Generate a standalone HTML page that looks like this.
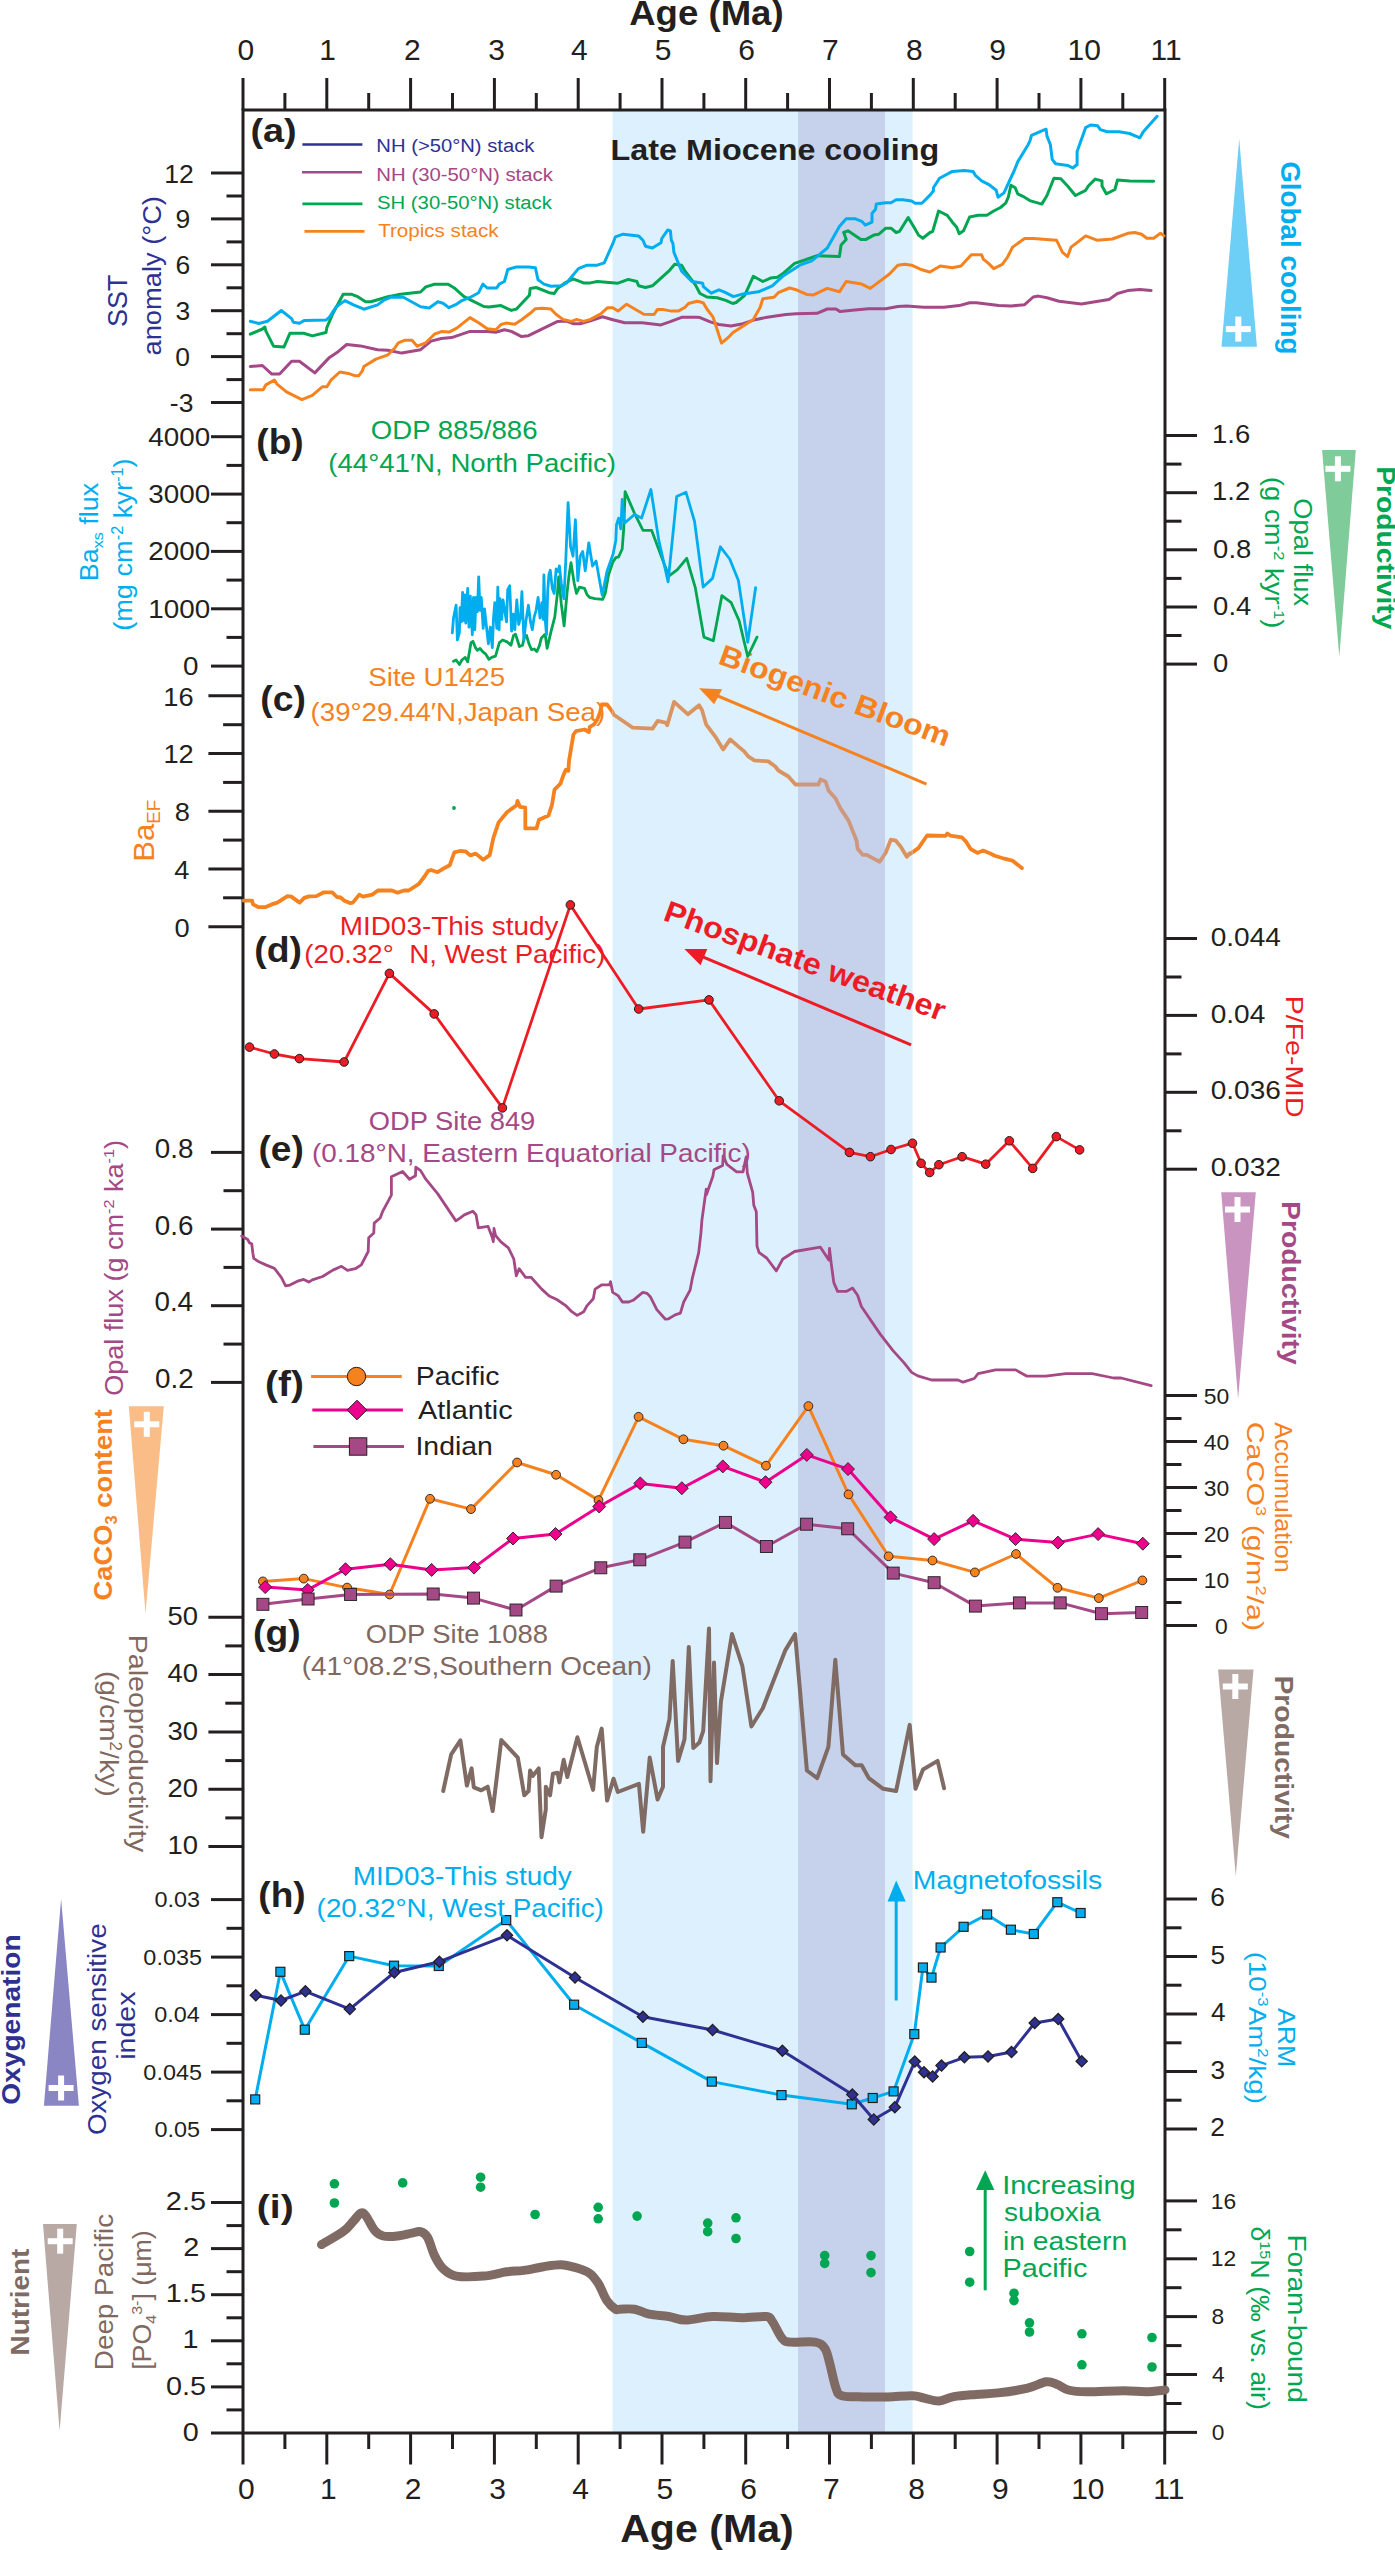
<!DOCTYPE html>
<html><head><meta charset="utf-8"><style>
html,body{margin:0;padding:0;background:#fff;}
svg{display:block;}
text{font-family:"Liberation Sans",sans-serif;}
</style></head><body>
<svg xmlns="http://www.w3.org/2000/svg" width="1395" height="2550" viewBox="0 0 1395 2550">
<rect width="1395" height="2550" fill="#fff"/>
<rect x="612.5" y="110.0" width="300.1" height="2323.0" fill="#ddf0fd"/>
<rect x="798" y="110.0" width="87.0" height="2323.0" fill="#c6d2ec"/>
<rect x="243.0" y="110.0" width="922.0" height="2323.0" fill="none" stroke="#231f20" stroke-width="3"/>
<line x1="243.0" y1="110.0" x2="243.0" y2="78.0" stroke="#231f20" stroke-width="3.0" stroke-linecap="butt"/>
<line x1="243.0" y1="2433.0" x2="243.0" y2="2464.5" stroke="#231f20" stroke-width="3.0" stroke-linecap="butt"/>
<text x="237.38" y="59.60" font-size="30" font-weight="normal" fill="#231f20" textLength="16.69" lengthAdjust="spacingAndGlyphs">0</text>
<text x="238.08" y="2498.80" font-size="30" font-weight="normal" fill="#231f20" textLength="16.69" lengthAdjust="spacingAndGlyphs">0</text>
<line x1="284.9" y1="110.0" x2="284.9" y2="93.0" stroke="#231f20" stroke-width="3.0" stroke-linecap="butt"/>
<line x1="284.9" y1="2433.0" x2="284.9" y2="2449.0" stroke="#231f20" stroke-width="3.0" stroke-linecap="butt"/>
<line x1="326.8" y1="110.0" x2="326.8" y2="78.0" stroke="#231f20" stroke-width="3.0" stroke-linecap="butt"/>
<line x1="326.8" y1="2433.0" x2="326.8" y2="2464.5" stroke="#231f20" stroke-width="3.0" stroke-linecap="butt"/>
<text x="319.22" y="59.60" font-size="30" font-weight="normal" fill="#231f20" textLength="16.69" lengthAdjust="spacingAndGlyphs">1</text>
<text x="320.02" y="2498.80" font-size="30" font-weight="normal" fill="#231f20" textLength="16.69" lengthAdjust="spacingAndGlyphs">1</text>
<line x1="368.7" y1="110.0" x2="368.7" y2="93.0" stroke="#231f20" stroke-width="3.0" stroke-linecap="butt"/>
<line x1="368.7" y1="2433.0" x2="368.7" y2="2449.0" stroke="#231f20" stroke-width="3.0" stroke-linecap="butt"/>
<line x1="410.6" y1="110.0" x2="410.6" y2="78.0" stroke="#231f20" stroke-width="3.0" stroke-linecap="butt"/>
<line x1="410.6" y1="2433.0" x2="410.6" y2="2464.5" stroke="#231f20" stroke-width="3.0" stroke-linecap="butt"/>
<text x="404.08" y="59.60" font-size="30" font-weight="normal" fill="#231f20" textLength="16.69" lengthAdjust="spacingAndGlyphs">2</text>
<text x="404.78" y="2498.80" font-size="30" font-weight="normal" fill="#231f20" textLength="16.69" lengthAdjust="spacingAndGlyphs">2</text>
<line x1="452.5" y1="110.0" x2="452.5" y2="93.0" stroke="#231f20" stroke-width="3.0" stroke-linecap="butt"/>
<line x1="452.5" y1="2433.0" x2="452.5" y2="2449.0" stroke="#231f20" stroke-width="3.0" stroke-linecap="butt"/>
<line x1="494.4" y1="110.0" x2="494.4" y2="78.0" stroke="#231f20" stroke-width="3.0" stroke-linecap="butt"/>
<line x1="494.4" y1="2433.0" x2="494.4" y2="2464.5" stroke="#231f20" stroke-width="3.0" stroke-linecap="butt"/>
<text x="488.22" y="59.60" font-size="30" font-weight="normal" fill="#231f20" textLength="16.69" lengthAdjust="spacingAndGlyphs">3</text>
<text x="489.32" y="2498.80" font-size="30" font-weight="normal" fill="#231f20" textLength="16.69" lengthAdjust="spacingAndGlyphs">3</text>
<line x1="536.3" y1="110.0" x2="536.3" y2="93.0" stroke="#231f20" stroke-width="3.0" stroke-linecap="butt"/>
<line x1="536.3" y1="2433.0" x2="536.3" y2="2449.0" stroke="#231f20" stroke-width="3.0" stroke-linecap="butt"/>
<line x1="578.2" y1="110.0" x2="578.2" y2="78.0" stroke="#231f20" stroke-width="3.0" stroke-linecap="butt"/>
<line x1="578.2" y1="2433.0" x2="578.2" y2="2464.5" stroke="#231f20" stroke-width="3.0" stroke-linecap="butt"/>
<text x="571.01" y="59.60" font-size="30" font-weight="normal" fill="#231f20" textLength="16.69" lengthAdjust="spacingAndGlyphs">4</text>
<text x="572.21" y="2498.80" font-size="30" font-weight="normal" fill="#231f20" textLength="16.69" lengthAdjust="spacingAndGlyphs">4</text>
<line x1="620.1" y1="110.0" x2="620.1" y2="93.0" stroke="#231f20" stroke-width="3.0" stroke-linecap="butt"/>
<line x1="620.1" y1="2433.0" x2="620.1" y2="2449.0" stroke="#231f20" stroke-width="3.0" stroke-linecap="butt"/>
<line x1="662.0" y1="110.0" x2="662.0" y2="78.0" stroke="#231f20" stroke-width="3.0" stroke-linecap="butt"/>
<line x1="662.0" y1="2433.0" x2="662.0" y2="2464.5" stroke="#231f20" stroke-width="3.0" stroke-linecap="butt"/>
<text x="654.83" y="59.60" font-size="30" font-weight="normal" fill="#231f20" textLength="16.69" lengthAdjust="spacingAndGlyphs">5</text>
<text x="656.53" y="2498.80" font-size="30" font-weight="normal" fill="#231f20" textLength="16.69" lengthAdjust="spacingAndGlyphs">5</text>
<line x1="703.9" y1="110.0" x2="703.9" y2="93.0" stroke="#231f20" stroke-width="3.0" stroke-linecap="butt"/>
<line x1="703.9" y1="2433.0" x2="703.9" y2="2449.0" stroke="#231f20" stroke-width="3.0" stroke-linecap="butt"/>
<line x1="745.7" y1="110.0" x2="745.7" y2="78.0" stroke="#231f20" stroke-width="3.0" stroke-linecap="butt"/>
<line x1="745.7" y1="2433.0" x2="745.7" y2="2464.5" stroke="#231f20" stroke-width="3.0" stroke-linecap="butt"/>
<text x="738.17" y="59.60" font-size="30" font-weight="normal" fill="#231f20" textLength="16.69" lengthAdjust="spacingAndGlyphs">6</text>
<text x="740.37" y="2498.80" font-size="30" font-weight="normal" fill="#231f20" textLength="16.69" lengthAdjust="spacingAndGlyphs">6</text>
<line x1="787.6" y1="110.0" x2="787.6" y2="93.0" stroke="#231f20" stroke-width="3.0" stroke-linecap="butt"/>
<line x1="787.6" y1="2433.0" x2="787.6" y2="2449.0" stroke="#231f20" stroke-width="3.0" stroke-linecap="butt"/>
<line x1="829.5" y1="110.0" x2="829.5" y2="78.0" stroke="#231f20" stroke-width="3.0" stroke-linecap="butt"/>
<line x1="829.5" y1="2433.0" x2="829.5" y2="2464.5" stroke="#231f20" stroke-width="3.0" stroke-linecap="butt"/>
<text x="822.04" y="59.60" font-size="30" font-weight="normal" fill="#231f20" textLength="16.69" lengthAdjust="spacingAndGlyphs">7</text>
<text x="823.04" y="2498.80" font-size="30" font-weight="normal" fill="#231f20" textLength="16.69" lengthAdjust="spacingAndGlyphs">7</text>
<line x1="871.4" y1="110.0" x2="871.4" y2="93.0" stroke="#231f20" stroke-width="3.0" stroke-linecap="butt"/>
<line x1="871.4" y1="2433.0" x2="871.4" y2="2449.0" stroke="#231f20" stroke-width="3.0" stroke-linecap="butt"/>
<line x1="913.3" y1="110.0" x2="913.3" y2="78.0" stroke="#231f20" stroke-width="3.0" stroke-linecap="butt"/>
<line x1="913.3" y1="2433.0" x2="913.3" y2="2464.5" stroke="#231f20" stroke-width="3.0" stroke-linecap="butt"/>
<text x="906.00" y="59.60" font-size="30" font-weight="normal" fill="#231f20" textLength="16.69" lengthAdjust="spacingAndGlyphs">8</text>
<text x="908.20" y="2498.80" font-size="30" font-weight="normal" fill="#231f20" textLength="16.69" lengthAdjust="spacingAndGlyphs">8</text>
<line x1="955.2" y1="110.0" x2="955.2" y2="93.0" stroke="#231f20" stroke-width="3.0" stroke-linecap="butt"/>
<line x1="955.2" y1="2433.0" x2="955.2" y2="2449.0" stroke="#231f20" stroke-width="3.0" stroke-linecap="butt"/>
<line x1="997.1" y1="110.0" x2="997.1" y2="78.0" stroke="#231f20" stroke-width="3.0" stroke-linecap="butt"/>
<line x1="997.1" y1="2433.0" x2="997.1" y2="2464.5" stroke="#231f20" stroke-width="3.0" stroke-linecap="butt"/>
<text x="989.29" y="59.60" font-size="30" font-weight="normal" fill="#231f20" textLength="16.69" lengthAdjust="spacingAndGlyphs">9</text>
<text x="991.99" y="2498.80" font-size="30" font-weight="normal" fill="#231f20" textLength="16.69" lengthAdjust="spacingAndGlyphs">9</text>
<line x1="1039.0" y1="110.0" x2="1039.0" y2="93.0" stroke="#231f20" stroke-width="3.0" stroke-linecap="butt"/>
<line x1="1039.0" y1="2433.0" x2="1039.0" y2="2449.0" stroke="#231f20" stroke-width="3.0" stroke-linecap="butt"/>
<line x1="1080.9" y1="110.0" x2="1080.9" y2="78.0" stroke="#231f20" stroke-width="3.0" stroke-linecap="butt"/>
<line x1="1080.9" y1="2433.0" x2="1080.9" y2="2464.5" stroke="#231f20" stroke-width="3.0" stroke-linecap="butt"/>
<text x="1067.46" y="59.60" font-size="30" font-weight="normal" fill="#231f20" textLength="33.37" lengthAdjust="spacingAndGlyphs">10</text>
<text x="1071.16" y="2498.80" font-size="30" font-weight="normal" fill="#231f20" textLength="33.37" lengthAdjust="spacingAndGlyphs">10</text>
<line x1="1122.8" y1="110.0" x2="1122.8" y2="93.0" stroke="#231f20" stroke-width="3.0" stroke-linecap="butt"/>
<line x1="1122.8" y1="2433.0" x2="1122.8" y2="2449.0" stroke="#231f20" stroke-width="3.0" stroke-linecap="butt"/>
<line x1="1164.7" y1="110.0" x2="1164.7" y2="78.0" stroke="#231f20" stroke-width="3.0" stroke-linecap="butt"/>
<line x1="1164.7" y1="2433.0" x2="1164.7" y2="2464.5" stroke="#231f20" stroke-width="3.0" stroke-linecap="butt"/>
<text x="1150.53" y="59.60" font-size="30" font-weight="normal" fill="#231f20" textLength="31.14" lengthAdjust="spacingAndGlyphs">11</text>
<text x="1153.33" y="2498.80" font-size="30" font-weight="normal" fill="#231f20" textLength="31.14" lengthAdjust="spacingAndGlyphs">11</text>
<text x="629.19" y="24.70" font-size="35" font-weight="bold" fill="#231f20" textLength="154.45" lengthAdjust="spacingAndGlyphs"><tspan>Age (Ma)</tspan></text>
<text x="620.17" y="2541.60" font-size="38" font-weight="bold" fill="#231f20" textLength="173.57" lengthAdjust="spacingAndGlyphs"><tspan>Age (Ma)</tspan></text>
<line x1="211.0" y1="402.5" x2="243.0" y2="402.5" stroke="#231f20" stroke-width="3.0" stroke-linecap="butt"/>
<line x1="211.0" y1="356.6" x2="243.0" y2="356.6" stroke="#231f20" stroke-width="3.0" stroke-linecap="butt"/>
<line x1="211.0" y1="310.7" x2="243.0" y2="310.7" stroke="#231f20" stroke-width="3.0" stroke-linecap="butt"/>
<line x1="211.0" y1="264.8" x2="243.0" y2="264.8" stroke="#231f20" stroke-width="3.0" stroke-linecap="butt"/>
<line x1="211.0" y1="218.9" x2="243.0" y2="218.9" stroke="#231f20" stroke-width="3.0" stroke-linecap="butt"/>
<line x1="211.0" y1="173.0" x2="243.0" y2="173.0" stroke="#231f20" stroke-width="3.0" stroke-linecap="butt"/>
<line x1="226.5" y1="379.6" x2="243.0" y2="379.6" stroke="#231f20" stroke-width="3.0" stroke-linecap="butt"/>
<line x1="226.5" y1="333.7" x2="243.0" y2="333.7" stroke="#231f20" stroke-width="3.0" stroke-linecap="butt"/>
<line x1="226.5" y1="287.8" x2="243.0" y2="287.8" stroke="#231f20" stroke-width="3.0" stroke-linecap="butt"/>
<line x1="226.5" y1="241.9" x2="243.0" y2="241.9" stroke="#231f20" stroke-width="3.0" stroke-linecap="butt"/>
<line x1="226.5" y1="196.0" x2="243.0" y2="196.0" stroke="#231f20" stroke-width="3.0" stroke-linecap="butt"/>
<text x="164.16" y="182.50" font-size="26" font-weight="normal" fill="#231f20" textLength="29.50" lengthAdjust="spacingAndGlyphs">12</text>
<text x="175.57" y="228.40" font-size="26" font-weight="normal" fill="#231f20" textLength="14.75" lengthAdjust="spacingAndGlyphs">9</text>
<text x="175.44" y="274.30" font-size="26" font-weight="normal" fill="#231f20" textLength="14.75" lengthAdjust="spacingAndGlyphs">6</text>
<text x="175.44" y="320.20" font-size="26" font-weight="normal" fill="#231f20" textLength="14.75" lengthAdjust="spacingAndGlyphs">3</text>
<text x="175.31" y="366.10" font-size="26" font-weight="normal" fill="#231f20" textLength="14.75" lengthAdjust="spacingAndGlyphs">0</text>
<text x="169.86" y="412.00" font-size="26" font-weight="normal" fill="#231f20" textLength="23.58" lengthAdjust="spacingAndGlyphs">-3</text>
<polyline points="250.3,366.5 262.4,365.5 271.8,374.1 279.6,374.1 291.6,361.2 299.4,361.2 314.8,372.9 329.5,357.4 338.1,351.7 346.7,344.5 360.4,345.9 377.6,349.7 388.0,350.2 401.7,353.1 420.6,349.7 431.0,341.1 441.3,338.5 451.6,337.6 470.0,331.4 487.2,331.4 495.8,332.3 504.4,329.7 511.3,331.4 521.6,336.6 528.5,335.7 542.3,328.8 557.7,321.4 566.3,321.1 573.2,323.7 580.1,323.7 590.4,320.7 602.5,316.8 612.8,319.7 624.8,322.8 642.0,322.8 661.0,324.9 669.6,321.9 681.6,317.3 697.1,317.3 700.0,317.6 710.3,321.9 718.9,324.5 731.0,325.9 743.0,323.7 755.1,319.7 765.4,317.6 786.0,314.5 796.3,313.8 817.0,313.3 827.3,309.0 835.9,309.0 840.2,311.6 854.8,309.9 868.6,308.7 885.8,308.7 897.8,306.5 906.5,305.9 923.7,307.3 930.0,307.3 943.8,307.3 959.2,305.6 969.6,302.7 976.5,302.7 998.8,305.6 1010.9,306.1 1024.6,304.7 1033.2,297.0 1038.4,296.1 1047.0,297.8 1059.0,301.3 1081.4,303.9 1108.9,299.6 1117.5,293.5 1127.8,290.6 1139.9,289.6 1151.1,290.6" fill="none" stroke="#a44886" stroke-width="3" stroke-linejoin="round" stroke-linecap="round" />
<polyline points="250.3,389.8 263.2,389.8 265.8,384.9 274.4,380.1 277.0,384.1 286.5,391.8 301.9,399.6 312.3,395.3 322.6,386.7 326.9,386.7 331.2,379.8 339.8,372.0 348.4,373.4 355.3,375.8 358.7,375.8 362.2,371.2 363.9,366.5 375.9,359.1 388.0,354.8 394.8,348.0 398.3,342.8 405.2,340.2 412.0,340.2 417.2,346.2 425.8,342.8 434.4,334.2 441.3,331.6 449.0,332.1 456.8,328.2 470.0,317.6 478.6,322.8 487.2,328.8 495.8,329.7 501.0,324.5 506.1,323.1 514.7,324.2 521.6,319.7 530.2,313.3 535.4,308.7 542.3,308.2 550.9,309.0 556.0,314.2 562.9,319.4 571.5,321.4 576.7,319.4 583.5,321.4 590.4,319.4 600.8,313.8 607.6,307.7 612.8,307.7 618.0,311.1 626.6,304.2 633.4,308.2 643.8,314.2 654.1,314.5 657.5,309.4 662.7,309.4 671.3,311.1 678.2,311.1 685.1,307.3 688.5,303.5 697.1,301.3 700.0,301.8 703.4,303.0 706.9,309.0 712.9,316.8 717.2,329.7 721.5,343.1 729.2,336.6 732.7,332.8 753.3,319.4 760.2,307.3 762.8,298.7 774.0,297.3 778.3,292.7 789.5,288.0 796.3,289.8 806.7,294.4 813.5,294.9 827.3,288.4 839.4,291.8 846.2,281.5 861.7,284.1 870.3,288.4 889.2,274.3 897.8,265.2 904.7,264.3 911.6,265.2 921.9,269.8 929.7,272.0 930.0,272.0 940.3,266.0 952.4,267.7 961.0,266.0 971.3,254.8 981.6,254.8 983.3,259.1 988.5,263.4 993.7,268.6 1002.3,264.3 1007.4,257.4 1012.6,247.1 1024.6,238.5 1033.2,238.5 1056.5,240.2 1062.5,252.3 1067.6,256.6 1071.1,247.1 1078.0,241.9 1085.7,235.9 1096.9,240.2 1112.4,239.0 1127.8,233.3 1134.7,232.5 1141.6,234.2 1146.8,238.2 1153.7,238.2 1160.5,233.3 1164.0,235.9" fill="none" stroke="#f5821f" stroke-width="3" stroke-linejoin="round" stroke-linecap="round" />
<polyline points="250.3,334.2 262.4,329.0 264.9,327.0 265.8,330.8 273.5,346.2 283.9,347.1 289.9,333.3 303.7,333.3 312.3,335.9 326.0,332.5 326.9,327.3 332.9,313.5 343.2,294.3 351.8,294.3 357.0,296.3 365.6,301.8 370.8,301.8 388.0,296.7 398.3,294.6 420.6,292.0 425.8,286.9 434.4,284.3 448.2,284.3 455.1,288.6 463.7,296.3 470.0,299.6 483.8,306.5 488.9,307.0 501.0,305.6 511.3,310.4 516.5,309.0 529.4,295.3 530.2,288.4 536.2,287.5 549.1,292.7 554.3,293.5 557.7,288.4 564.6,283.2 573.2,278.9 583.5,282.9 590.4,282.9 597.3,281.5 618.0,283.2 628.3,279.4 636.9,281.5 638.6,285.8 645.5,287.5 652.4,285.8 661.0,278.1 669.6,270.3 674.7,264.3 681.6,265.2 685.1,271.2 695.4,284.9 700.0,293.5 706.9,297.0 717.2,297.8 725.8,300.4 732.7,303.5 736.1,302.5 744.7,295.3 753.3,276.3 762.8,281.5 770.5,278.1 777.4,277.2 782.6,273.8 794.6,263.4 804.9,260.0 817.0,255.7 839.4,256.6 841.1,245.0 846.2,239.4 843.7,232.5 848.0,230.8 860.9,239.4 866.0,239.4 873.8,235.1 878.9,234.2 885.8,228.2 891.0,228.2 896.1,232.5 899.6,231.3 908.2,217.5 913.3,226.1 918.5,235.1 922.8,238.2 930.0,232.5 932.6,231.6 938.6,211.0 947.2,215.3 952.4,222.2 956.7,227.3 959.2,233.8 963.5,230.8 969.6,217.0 978.2,215.3 986.8,215.3 993.7,211.0 1000.5,207.5 1005.7,203.2 1008.3,197.2 1010.9,185.2 1015.2,187.7 1017.7,193.8 1022.9,196.3 1029.8,200.6 1041.8,204.1 1047.0,195.5 1053.9,178.3 1060.8,178.8 1067.6,186.0 1075.4,195.5 1085.7,190.3 1088.3,186.0 1095.2,179.1 1102.0,180.9 1102.0,186.0 1106.3,193.8 1114.9,189.5 1117.5,180.0 1129.6,180.9 1153.7,181.2" fill="none" stroke="#00a651" stroke-width="3" stroke-linejoin="round" stroke-linecap="round" />
<polyline points="250.3,321.3 258.9,323.5 267.5,321.3 281.3,310.5 291.6,318.7 293.3,322.2 299.4,323.2 304.5,320.4 326.0,320.1 329.5,317.0 336.3,306.7 344.9,300.6 353.5,304.9 363.9,309.2 377.6,304.9 384.5,299.8 391.4,297.2 403.4,297.2 420.6,306.7 429.2,308.0 437.8,301.8 443.0,303.2 449.0,307.7 456.8,304.1 461.9,300.6 470.5,297.2 478.6,292.7 482.9,284.1 487.2,288.0 496.7,288.0 499.2,284.1 504.4,281.5 507.8,269.5 516.5,266.9 528.5,266.9 535.4,267.7 538.0,279.8 544.0,284.1 550.9,286.2 561.2,285.8 566.3,283.2 578.4,268.6 587.0,265.2 597.3,265.2 604.2,262.9 612.8,243.7 615.4,236.8 623.1,234.2 638.6,235.9 642.9,240.2 645.5,246.2 652.4,248.0 661.0,242.8 661.8,238.5 667.8,229.9 670.4,230.8 671.3,240.2 673.0,243.7 673.9,252.3 681.6,271.2 691.9,281.5 700.0,282.7 702.6,283.2 703.4,286.7 711.2,293.2 718.9,289.8 724.1,291.8 733.5,296.6 743.0,293.9 758.5,291.8 772.3,285.8 782.6,276.3 799.8,265.2 811.8,260.9 827.3,248.0 839.4,226.5 846.2,218.7 854.8,218.7 861.7,221.3 865.2,225.1 872.0,222.2 872.0,213.5 875.5,209.2 876.3,204.1 885.8,202.7 891.0,202.7 896.1,199.8 903.0,199.8 911.6,201.0 915.1,203.2 921.9,203.2 930.5,194.6 933.1,191.2 933.4,191.2 933.4,187.7 939.5,178.3 952.4,171.4 964.4,170.5 973.0,171.4 975.6,175.7 981.6,180.9 988.5,184.3 996.2,190.3 998.0,197.2 1004.0,192.9 1009.1,181.7 1014.3,170.5 1017.7,161.9 1028.1,144.7 1029.8,141.3 1031.5,135.3 1043.5,130.1 1046.1,129.2 1047.0,136.1 1050.4,144.7 1052.2,159.4 1055.6,163.7 1067.6,165.4 1072.8,168.0 1077.1,164.5 1077.1,151.6 1085.7,127.5 1090.9,124.9 1097.7,125.8 1100.3,129.6 1107.2,131.8 1119.2,131.8 1129.6,133.5 1139.9,137.8 1143.3,131.8 1157.1,116.3" fill="none" stroke="#00aeef" stroke-width="3" stroke-linejoin="round" stroke-linecap="round" />
<text x="250.40" y="141.80" font-size="34" font-weight="bold" fill="#231f20" textLength="46.29" lengthAdjust="spacingAndGlyphs"><tspan>(a)</tspan></text>
<line x1="302.4" y1="144.5" x2="362.4" y2="144.5" stroke="#2e3192" stroke-width="2.6" stroke-linecap="butt"/>
<text x="376.38" y="151.80" font-size="19.2" font-weight="normal" fill="#2e3192" textLength="157.99" lengthAdjust="spacingAndGlyphs"><tspan>NH (&gt;50°N) stack</tspan></text>
<line x1="302.0" y1="172.2" x2="362.0" y2="172.2" stroke="#a44886" stroke-width="2.6" stroke-linecap="butt"/>
<text x="376.37" y="180.70" font-size="19.2" font-weight="normal" fill="#a44886" textLength="176.52" lengthAdjust="spacingAndGlyphs"><tspan>NH (30-50°N) stack</tspan></text>
<line x1="302.4" y1="203.9" x2="362.4" y2="203.9" stroke="#00a651" stroke-width="2.6" stroke-linecap="butt"/>
<text x="377.09" y="209.00" font-size="19.2" font-weight="normal" fill="#00a651" textLength="174.81" lengthAdjust="spacingAndGlyphs"><tspan>SH (30-50°N) stack</tspan></text>
<line x1="304.5" y1="231.4" x2="364.5" y2="231.4" stroke="#f5821f" stroke-width="2.6" stroke-linecap="butt"/>
<text x="378.19" y="237.10" font-size="19.2" font-weight="normal" fill="#f5821f" textLength="120.47" lengthAdjust="spacingAndGlyphs"><tspan>Tropics stack</tspan></text>
<text x="610.60" y="160.40" font-size="30" font-weight="bold" fill="#231f20" textLength="328.71" lengthAdjust="spacingAndGlyphs"><tspan>Late Miocene cooling</tspan></text>
<text transform="translate(126.70,326.91) rotate(-90)" font-size="27" font-weight="normal" fill="#2e3192" textLength="52.24" lengthAdjust="spacingAndGlyphs"><tspan>SST</tspan></text>
<text transform="translate(161.00,355.49) rotate(-90)" font-size="26" font-weight="normal" fill="#2e3192" textLength="159.42" lengthAdjust="spacingAndGlyphs"><tspan>anomaly (°C)</tspan></text>
<polygon points="1239.2,139.1 1256.9,346.8 1221.5,346.8" fill="#6dcff6"/>
<rect x="1225.8" y="326.1" width="25" height="6" fill="#fff"/>
<rect x="1235.3" y="316.6" width="6" height="25" fill="#fff"/>
<text transform="translate(1281.30,161.19) rotate(90)" font-size="27" font-weight="bold" fill="#00aeef" textLength="193.31" lengthAdjust="spacingAndGlyphs"><tspan>Global cooling</tspan></text>
<line x1="211.0" y1="666.1" x2="243.0" y2="666.1" stroke="#231f20" stroke-width="3.0" stroke-linecap="butt"/>
<line x1="211.0" y1="608.8" x2="243.0" y2="608.8" stroke="#231f20" stroke-width="3.0" stroke-linecap="butt"/>
<line x1="211.0" y1="551.4" x2="243.0" y2="551.4" stroke="#231f20" stroke-width="3.0" stroke-linecap="butt"/>
<line x1="211.0" y1="494.1" x2="243.0" y2="494.1" stroke="#231f20" stroke-width="3.0" stroke-linecap="butt"/>
<line x1="211.0" y1="436.7" x2="243.0" y2="436.7" stroke="#231f20" stroke-width="3.0" stroke-linecap="butt"/>
<line x1="226.5" y1="637.4" x2="243.0" y2="637.4" stroke="#231f20" stroke-width="3.0" stroke-linecap="butt"/>
<line x1="226.5" y1="580.1" x2="243.0" y2="580.1" stroke="#231f20" stroke-width="3.0" stroke-linecap="butt"/>
<line x1="226.5" y1="522.7" x2="243.0" y2="522.7" stroke="#231f20" stroke-width="3.0" stroke-linecap="butt"/>
<line x1="226.5" y1="465.4" x2="243.0" y2="465.4" stroke="#231f20" stroke-width="3.0" stroke-linecap="butt"/>
<text x="148.27" y="445.70" font-size="26" font-weight="normal" fill="#231f20" textLength="61.89" lengthAdjust="spacingAndGlyphs">4000</text>
<text x="148.27" y="503.05" font-size="26" font-weight="normal" fill="#231f20" textLength="61.89" lengthAdjust="spacingAndGlyphs">3000</text>
<text x="148.27" y="560.40" font-size="26" font-weight="normal" fill="#231f20" textLength="61.89" lengthAdjust="spacingAndGlyphs">2000</text>
<text x="148.27" y="617.75" font-size="26" font-weight="normal" fill="#231f20" textLength="61.89" lengthAdjust="spacingAndGlyphs">1000</text>
<text x="183.13" y="675.10" font-size="26" font-weight="normal" fill="#231f20" textLength="15.47" lengthAdjust="spacingAndGlyphs">0</text>
<line x1="1165.0" y1="664.1" x2="1197.0" y2="664.1" stroke="#231f20" stroke-width="3.0" stroke-linecap="butt"/>
<line x1="1165.0" y1="607.0" x2="1197.0" y2="607.0" stroke="#231f20" stroke-width="3.0" stroke-linecap="butt"/>
<line x1="1165.0" y1="549.8" x2="1197.0" y2="549.8" stroke="#231f20" stroke-width="3.0" stroke-linecap="butt"/>
<line x1="1165.0" y1="492.7" x2="1197.0" y2="492.7" stroke="#231f20" stroke-width="3.0" stroke-linecap="butt"/>
<line x1="1165.0" y1="435.5" x2="1197.0" y2="435.5" stroke="#231f20" stroke-width="3.0" stroke-linecap="butt"/>
<line x1="1165.0" y1="635.5" x2="1181.5" y2="635.5" stroke="#231f20" stroke-width="3.0" stroke-linecap="butt"/>
<line x1="1165.0" y1="578.4" x2="1181.5" y2="578.4" stroke="#231f20" stroke-width="3.0" stroke-linecap="butt"/>
<line x1="1165.0" y1="521.2" x2="1181.5" y2="521.2" stroke="#231f20" stroke-width="3.0" stroke-linecap="butt"/>
<line x1="1165.0" y1="464.1" x2="1181.5" y2="464.1" stroke="#231f20" stroke-width="3.0" stroke-linecap="butt"/>
<text x="1212.04" y="443.20" font-size="26.4" font-weight="normal" fill="#231f20" textLength="38.17" lengthAdjust="spacingAndGlyphs">1.6</text>
<text x="1212.04" y="500.35" font-size="26.4" font-weight="normal" fill="#231f20" textLength="38.17" lengthAdjust="spacingAndGlyphs">1.2</text>
<text x="1213.14" y="557.50" font-size="26.4" font-weight="normal" fill="#231f20" textLength="38.17" lengthAdjust="spacingAndGlyphs">0.8</text>
<text x="1213.14" y="614.65" font-size="26.4" font-weight="normal" fill="#231f20" textLength="38.17" lengthAdjust="spacingAndGlyphs">0.4</text>
<text x="1213.14" y="671.80" font-size="26.4" font-weight="normal" fill="#231f20" textLength="15.27" lengthAdjust="spacingAndGlyphs">0</text>
<text x="256.33" y="453.70" font-size="34.3" font-weight="bold" fill="#231f20" textLength="47.41" lengthAdjust="spacingAndGlyphs"><tspan>(b)</tspan></text>
<text x="370.76" y="439.10" font-size="25.7" font-weight="normal" fill="#00a651" textLength="166.79" lengthAdjust="spacingAndGlyphs"><tspan>ODP 885/886</tspan></text>
<text x="328.34" y="471.80" font-size="25.7" font-weight="normal" fill="#00a651" textLength="287.70" lengthAdjust="spacingAndGlyphs"><tspan>(44°41′N, North Pacific)</tspan></text>
<polygon points="1322.1,450.0 1355.8,450.0 1339.3,656.7" fill="#7fcb9a"/>
<rect x="1325.4" y="465.8" width="25" height="6" fill="#fff"/>
<rect x="1334.9" y="456.3" width="6" height="25" fill="#fff"/>
<text transform="translate(1293.50,498.37) rotate(90)" font-size="25" font-weight="normal" fill="#00a651" textLength="107.74" lengthAdjust="spacingAndGlyphs"><tspan>Opal flux</tspan></text>
<text transform="translate(1265.30,476.85) rotate(90)" font-size="25" font-weight="normal" fill="#00a651" textLength="151.65" lengthAdjust="spacingAndGlyphs"><tspan>(g cm</tspan><tspan dy="-9.00" font-size="15.00">-2</tspan><tspan dy="9.00"> kyr</tspan><tspan dy="-9.00" font-size="15.00">-1</tspan><tspan dy="9.00">)</tspan></text>
<text transform="translate(1376.60,466.16) rotate(90)" font-size="26" font-weight="bold" fill="#00a651" textLength="163.31" lengthAdjust="spacingAndGlyphs"><tspan>Productivity</tspan></text>
<text transform="translate(97.50,581.15) rotate(-90)" font-size="25.6" font-weight="normal" fill="#00aeef" textLength="98.39" lengthAdjust="spacingAndGlyphs"><tspan>Ba</tspan><tspan dy="5.12" font-size="15.36">xs</tspan><tspan dy="-5.12"> flux</tspan></text>
<text transform="translate(131.90,630.83) rotate(-90)" font-size="26" font-weight="normal" fill="#00aeef" textLength="172.41" lengthAdjust="spacingAndGlyphs"><tspan>(mg cm</tspan><tspan dy="-9.36" font-size="15.60">-2</tspan><tspan dy="9.36"> kyr</tspan><tspan dy="-9.36" font-size="15.60">-1</tspan><tspan dy="9.36">)</tspan></text>
<line x1="208.4" y1="926.7" x2="243.0" y2="926.7" stroke="#231f20" stroke-width="3.0" stroke-linecap="butt"/>
<line x1="208.4" y1="869.0" x2="243.0" y2="869.0" stroke="#231f20" stroke-width="3.0" stroke-linecap="butt"/>
<line x1="208.4" y1="811.3" x2="243.0" y2="811.3" stroke="#231f20" stroke-width="3.0" stroke-linecap="butt"/>
<line x1="208.4" y1="753.5" x2="243.0" y2="753.5" stroke="#231f20" stroke-width="3.0" stroke-linecap="butt"/>
<line x1="208.4" y1="695.8" x2="243.0" y2="695.8" stroke="#231f20" stroke-width="3.0" stroke-linecap="butt"/>
<line x1="223.1" y1="897.8" x2="243.0" y2="897.8" stroke="#231f20" stroke-width="3.0" stroke-linecap="butt"/>
<line x1="223.1" y1="840.1" x2="243.0" y2="840.1" stroke="#231f20" stroke-width="3.0" stroke-linecap="butt"/>
<line x1="223.1" y1="782.4" x2="243.0" y2="782.4" stroke="#231f20" stroke-width="3.0" stroke-linecap="butt"/>
<line x1="223.1" y1="724.7" x2="243.0" y2="724.7" stroke="#231f20" stroke-width="3.0" stroke-linecap="butt"/>
<text x="163.26" y="705.72" font-size="26.7" font-weight="normal" fill="#231f20" textLength="30.29" lengthAdjust="spacingAndGlyphs">16</text>
<text x="163.40" y="763.44" font-size="26.7" font-weight="normal" fill="#231f20" textLength="30.29" lengthAdjust="spacingAndGlyphs">12</text>
<text x="174.67" y="821.16" font-size="26.7" font-weight="normal" fill="#231f20" textLength="15.15" lengthAdjust="spacingAndGlyphs">8</text>
<text x="174.27" y="878.88" font-size="26.7" font-weight="normal" fill="#231f20" textLength="15.15" lengthAdjust="spacingAndGlyphs">4</text>
<text x="174.54" y="936.60" font-size="26.7" font-weight="normal" fill="#231f20" textLength="15.15" lengthAdjust="spacingAndGlyphs">0</text>
<clipPath id="co"><rect x="0" y="0" width="612.5" height="2550"/><rect x="912.6" y="0" width="500" height="2550"/></clipPath><clipPath id="cl"><rect x="612.5" y="0" width="185.5" height="2550"/><rect x="885" y="0" width="27.6" height="2550"/></clipPath><clipPath id="cd"><rect x="798" y="0" width="87" height="2550"/></clipPath>
<polyline points="243.7,900.7 252.1,900.7 253.0,904.4 258.6,907.2 265.2,907.2 271.7,904.4 277.3,902.6 287.5,896.1 291.3,896.6 299.6,902.6 304.3,897.9 309.0,896.4 316.4,896.1 323.9,892.3 332.3,892.3 336.9,897.0 340.6,897.5 344.4,900.7 350.0,903.1 352.8,902.6 359.3,894.6 363.0,896.6 372.3,894.6 377.9,890.5 391.9,890.5 397.5,892.7 404.0,890.5 408.7,890.5 418.9,883.9 424.5,876.5 428.2,870.9 431.0,870.0 437.6,872.2 445.0,867.7 449.7,865.3 454.3,852.3 459.9,851.0 465.5,851.3 470.2,855.4 475.8,853.6 483.2,859.7 489.7,855.1 493.4,837.8 498.6,822.4 507.2,812.0 516.7,805.2 517.5,800.9 520.1,806.9 525.3,807.7 525.3,828.4 536.5,828.4 539.0,819.8 548.5,815.5 551.9,805.2 554.5,789.7 560.5,783.7 563.1,775.9 565.7,769.9 568.3,770.8 569.1,760.4 573.4,734.6 576.0,731.2 584.6,729.5 588.9,732.0 589.8,726.9 594.1,724.3 597.5,719.1 600.1,712.3 601.8,704.5 607.0,704.5 612.2,711.4 613.9,714.8 613.9,714.8 632.8,727.7 652.6,728.6 657.7,720.9 665.5,722.6 667.2,725.2 674.1,701.9 688.0,714.3 699.1,705.2 702.1,710.3 706.1,724.3 715.1,736.3 723.2,749.4 730.2,739.4 738.2,746.4 744.2,751.4 748.2,756.4 754.3,760.4 768.3,761.4 775.3,766.5 778.4,770.5 788.4,776.5 795.4,784.5 818.5,784.5 820.5,779.5 825.5,781.5 828.5,790.5 835.6,798.6 840.6,808.6 848.6,820.6 856.6,840.7 857.6,848.7 862.7,854.8 866.7,854.8 879.7,861.8 885.7,852.8 890.8,839.7 895.8,840.7 900.8,846.7 906.8,856.8 909.8,853.2 906.8,856.2 911.6,852.9 918.4,848.1 927.1,835.5 945.5,835.9 947.4,833.5 950.3,835.5 961.9,837.4 965.8,841.3 970.6,849.0 977.4,852.9 983.2,850.6 989.0,852.9 994.8,855.8 1004.5,858.7 1012.3,860.6 1021.9,868.0" fill="none" stroke="#f5821f" stroke-width="3.8" stroke-linejoin="round" stroke-linecap="round" clip-path="url(#co)"/>
<polyline points="243.7,900.7 252.1,900.7 253.0,904.4 258.6,907.2 265.2,907.2 271.7,904.4 277.3,902.6 287.5,896.1 291.3,896.6 299.6,902.6 304.3,897.9 309.0,896.4 316.4,896.1 323.9,892.3 332.3,892.3 336.9,897.0 340.6,897.5 344.4,900.7 350.0,903.1 352.8,902.6 359.3,894.6 363.0,896.6 372.3,894.6 377.9,890.5 391.9,890.5 397.5,892.7 404.0,890.5 408.7,890.5 418.9,883.9 424.5,876.5 428.2,870.9 431.0,870.0 437.6,872.2 445.0,867.7 449.7,865.3 454.3,852.3 459.9,851.0 465.5,851.3 470.2,855.4 475.8,853.6 483.2,859.7 489.7,855.1 493.4,837.8 498.6,822.4 507.2,812.0 516.7,805.2 517.5,800.9 520.1,806.9 525.3,807.7 525.3,828.4 536.5,828.4 539.0,819.8 548.5,815.5 551.9,805.2 554.5,789.7 560.5,783.7 563.1,775.9 565.7,769.9 568.3,770.8 569.1,760.4 573.4,734.6 576.0,731.2 584.6,729.5 588.9,732.0 589.8,726.9 594.1,724.3 597.5,719.1 600.1,712.3 601.8,704.5 607.0,704.5 612.2,711.4 613.9,714.8 613.9,714.8 632.8,727.7 652.6,728.6 657.7,720.9 665.5,722.6 667.2,725.2 674.1,701.9 688.0,714.3 699.1,705.2 702.1,710.3 706.1,724.3 715.1,736.3 723.2,749.4 730.2,739.4 738.2,746.4 744.2,751.4 748.2,756.4 754.3,760.4 768.3,761.4 775.3,766.5 778.4,770.5 788.4,776.5 795.4,784.5 818.5,784.5 820.5,779.5 825.5,781.5 828.5,790.5 835.6,798.6 840.6,808.6 848.6,820.6 856.6,840.7 857.6,848.7 862.7,854.8 866.7,854.8 879.7,861.8 885.7,852.8 890.8,839.7 895.8,840.7 900.8,846.7 906.8,856.8 909.8,853.2 906.8,856.2 911.6,852.9 918.4,848.1 927.1,835.5 945.5,835.9 947.4,833.5 950.3,835.5 961.9,837.4 965.8,841.3 970.6,849.0 977.4,852.9 983.2,850.6 989.0,852.9 994.8,855.8 1004.5,858.7 1012.3,860.6 1021.9,868.0" fill="none" stroke="#da9462" stroke-width="3.8" stroke-linejoin="round" stroke-linecap="round" clip-path="url(#cl)"/>
<polyline points="243.7,900.7 252.1,900.7 253.0,904.4 258.6,907.2 265.2,907.2 271.7,904.4 277.3,902.6 287.5,896.1 291.3,896.6 299.6,902.6 304.3,897.9 309.0,896.4 316.4,896.1 323.9,892.3 332.3,892.3 336.9,897.0 340.6,897.5 344.4,900.7 350.0,903.1 352.8,902.6 359.3,894.6 363.0,896.6 372.3,894.6 377.9,890.5 391.9,890.5 397.5,892.7 404.0,890.5 408.7,890.5 418.9,883.9 424.5,876.5 428.2,870.9 431.0,870.0 437.6,872.2 445.0,867.7 449.7,865.3 454.3,852.3 459.9,851.0 465.5,851.3 470.2,855.4 475.8,853.6 483.2,859.7 489.7,855.1 493.4,837.8 498.6,822.4 507.2,812.0 516.7,805.2 517.5,800.9 520.1,806.9 525.3,807.7 525.3,828.4 536.5,828.4 539.0,819.8 548.5,815.5 551.9,805.2 554.5,789.7 560.5,783.7 563.1,775.9 565.7,769.9 568.3,770.8 569.1,760.4 573.4,734.6 576.0,731.2 584.6,729.5 588.9,732.0 589.8,726.9 594.1,724.3 597.5,719.1 600.1,712.3 601.8,704.5 607.0,704.5 612.2,711.4 613.9,714.8 613.9,714.8 632.8,727.7 652.6,728.6 657.7,720.9 665.5,722.6 667.2,725.2 674.1,701.9 688.0,714.3 699.1,705.2 702.1,710.3 706.1,724.3 715.1,736.3 723.2,749.4 730.2,739.4 738.2,746.4 744.2,751.4 748.2,756.4 754.3,760.4 768.3,761.4 775.3,766.5 778.4,770.5 788.4,776.5 795.4,784.5 818.5,784.5 820.5,779.5 825.5,781.5 828.5,790.5 835.6,798.6 840.6,808.6 848.6,820.6 856.6,840.7 857.6,848.7 862.7,854.8 866.7,854.8 879.7,861.8 885.7,852.8 890.8,839.7 895.8,840.7 900.8,846.7 906.8,856.8 909.8,853.2 906.8,856.2 911.6,852.9 918.4,848.1 927.1,835.5 945.5,835.9 947.4,833.5 950.3,835.5 961.9,837.4 965.8,841.3 970.6,849.0 977.4,852.9 983.2,850.6 989.0,852.9 994.8,855.8 1004.5,858.7 1012.3,860.6 1021.9,868.0" fill="none" stroke="#cf987c" stroke-width="3.8" stroke-linejoin="round" stroke-linecap="round" clip-path="url(#cd)"/>
<circle cx="454" cy="808" r="1.9" fill="#00a651"/>
<text x="260.32" y="710.60" font-size="35" font-weight="bold" fill="#231f20" textLength="45.65" lengthAdjust="spacingAndGlyphs"><tspan>(c)</tspan></text>
<text x="368.36" y="686.20" font-size="25.2" font-weight="normal" fill="#f5821f" textLength="136.63" lengthAdjust="spacingAndGlyphs"><tspan>Site U1425</tspan></text>
<text x="310.54" y="720.50" font-size="25.7" font-weight="normal" fill="#f5821f" textLength="294.63" lengthAdjust="spacingAndGlyphs"><tspan>(39°29.44′N,Japan Sea)</tspan></text>
<text transform="translate(154.00,861.79) rotate(-90)" font-size="30" font-weight="normal" fill="#f5821f" textLength="62.00" lengthAdjust="spacingAndGlyphs"><tspan>Ba</tspan><tspan dy="6.00" font-size="18.00">EF</tspan></text>
<line x1="926.5" y1="784.1" x2="712.0" y2="693.5" stroke="#f5821f" stroke-width="3" stroke-linecap="butt"/>
<polygon points="699.1,688.2 722.2,689.2 714.1,704.2" fill="#f5821f"/>
<text transform="translate(717.04,663.28) rotate(20.1)" font-size="29.5" font-weight="bold" fill="#f5821f" textLength="243.85" lengthAdjust="spacingAndGlyphs">Biogenic Bloom</text>
<polyline points="453.5,661.3 456.1,660.0 459.4,664.5 461.9,660.0 465.2,657.4 467.7,661.9 471.0,642.6 472.9,641.3 475.5,647.7 477.4,650.3 480.0,648.4 482.6,651.6 485.8,654.2 489.0,659.4 491.6,657.4 495.5,656.1 499.4,642.6 502.6,640.0 507.1,641.9 511.0,645.2 513.5,635.5 515.5,634.2 517.4,640.0 519.4,646.5 522.6,645.2 524.5,636.1 526.5,635.5 529.0,643.9 531.6,649.7 534.2,649.0 536.8,651.6 539.4,645.8 541.3,638.1 543.2,636.1 545.2,634.2 547.1,648.4 551.0,631.6 554.8,616.8 557.4,593.5 558.7,576.8 561.3,603.9 564.1,625.8 567.1,592.3 569.0,575.5 571.0,562.6 574.2,583.2 576.5,593.5 579.4,587.1 584.5,588.4 587.1,594.8 589.7,597.4 594.8,598.7 602.6,599.4 605.2,593.5 608.6,574.8 612.9,561.9 615.8,557.6 618.6,556.8 622.2,549.0 623.7,528.9 625.1,491.6 634.4,513.1 643.0,530.3 651.6,530.3 660.2,553.3 668.8,576.2 677.4,569.7 686.7,558.3 695.3,587.7 703.9,637.1 713.3,640.7 721.9,595.6 731.2,602.7 739.1,620.6 747.7,656.5 757.0,637.1" fill="none" stroke="#00a651" stroke-width="2.8" stroke-linejoin="round" stroke-linecap="round" />
<polyline points="452.3,632.9 453.5,618.1 454.8,611.6 456.1,605.2 457.4,640.0 459.4,632.3 460.0,607.7 461.3,621.9 462.6,592.3 463.9,620.6 465.2,594.8 465.8,623.2 467.7,588.4 469.0,627.1 470.3,596.1 472.3,634.8 473.5,597.4 474.8,629.7 476.1,597.4 477.4,611.6 478.7,576.8 480.0,610.3 481.3,597.4 483.2,628.4 484.5,609.0 485.8,620.6 488.4,643.9 490.3,627.1 492.3,647.7 493.5,618.1 494.8,602.6 496.8,628.4 497.8,587.1 499.1,629.7 500.0,598.7 501.7,619.4 503.0,600.0 504.5,609.0 506.5,621.9 507.7,589.7 509.7,585.8 511.6,631.0 513.5,614.2 514.8,629.7 516.8,600.0 518.7,624.5 520.6,616.8 521.9,591.6 523.9,640.0 525.8,621.9 528.4,605.2 530.3,620.6 532.3,629.7 534.2,616.8 536.1,610.3 538.1,597.4 540.0,618.1 541.9,602.6 543.2,619.4 543.9,574.8 545.2,619.4 546.5,634.8 547.7,591.0 549.0,574.2 550.3,570.3 552.3,588.4 554.2,593.5 556.1,569.0 558.1,571.6 559.4,565.8 561.3,583.2 563.9,598.7 565.8,560.0 568.1,502.6 570.5,546.5 573.0,556.2 575.4,519.7 577.8,580.6 580.3,556.2 582.7,551.4 585.2,570.9 588.8,542.8 592.5,566.0 596.1,561.1 602.2,595.2 607.1,570.9 613.2,553.8 615.8,540.4 616.5,524.6 618.6,518.1 620.8,528.9 622.2,499.5 624.4,523.2 634.4,514.6 641.6,518.1 650.9,489.5 658.8,540.4 668.1,581.9 676.7,496.6 686.0,492.3 694.6,521.7 703.2,587.0 712.5,578.4 720.4,546.8 729.7,559.0 738.4,580.5 747.7,642.2 755.6,587.7" fill="none" stroke="#00aeef" stroke-width="2.8" stroke-linejoin="round" stroke-linecap="round" />
<line x1="1165.0" y1="1169.2" x2="1197.0" y2="1169.2" stroke="#231f20" stroke-width="3.0" stroke-linecap="butt"/>
<line x1="1165.0" y1="1092.3" x2="1197.0" y2="1092.3" stroke="#231f20" stroke-width="3.0" stroke-linecap="butt"/>
<line x1="1165.0" y1="1015.4" x2="1197.0" y2="1015.4" stroke="#231f20" stroke-width="3.0" stroke-linecap="butt"/>
<line x1="1165.0" y1="938.5" x2="1197.0" y2="938.5" stroke="#231f20" stroke-width="3.0" stroke-linecap="butt"/>
<line x1="1165.0" y1="1130.8" x2="1181.5" y2="1130.8" stroke="#231f20" stroke-width="3.0" stroke-linecap="butt"/>
<line x1="1165.0" y1="1053.9" x2="1181.5" y2="1053.9" stroke="#231f20" stroke-width="3.0" stroke-linecap="butt"/>
<line x1="1165.0" y1="977.0" x2="1181.5" y2="977.0" stroke="#231f20" stroke-width="3.0" stroke-linecap="butt"/>
<text x="1210.72" y="945.60" font-size="26.2" font-weight="normal" fill="#231f20" textLength="70.16" lengthAdjust="spacingAndGlyphs">0.044</text>
<text x="1210.72" y="1022.50" font-size="26.2" font-weight="normal" fill="#231f20" textLength="54.56" lengthAdjust="spacingAndGlyphs">0.04</text>
<text x="1210.72" y="1099.40" font-size="26.2" font-weight="normal" fill="#231f20" textLength="70.16" lengthAdjust="spacingAndGlyphs">0.036</text>
<text x="1210.72" y="1176.30" font-size="26.2" font-weight="normal" fill="#231f20" textLength="70.16" lengthAdjust="spacingAndGlyphs">0.032</text>
<polyline points="249.5,1047.1 274.4,1054.0 299.4,1058.6 344.1,1062.0 389.4,973.4 434.2,1013.9 502.4,1107.9 570.4,904.9 638.7,1009.0 709.0,999.9 779.2,1100.8 849.5,1152.4 870.4,1156.7 891.0,1149.5 912.5,1143.2 921.1,1163.3 929.7,1172.5 938.9,1164.7 962.1,1156.7 985.7,1164.2 1009.3,1140.8 1032.7,1168.4 1056.3,1136.6 1079.6,1149.9" fill="none" stroke="#ed1c24" stroke-width="2.8" stroke-linejoin="round" stroke-linecap="round" />
<circle cx="249.5" cy="1047.1" r="4.3" fill="#ed1c24" stroke="#231f20" stroke-width="1"/>
<circle cx="274.4" cy="1054" r="4.3" fill="#ed1c24" stroke="#231f20" stroke-width="1"/>
<circle cx="299.4" cy="1058.6" r="4.3" fill="#ed1c24" stroke="#231f20" stroke-width="1"/>
<circle cx="344.1" cy="1062" r="4.3" fill="#ed1c24" stroke="#231f20" stroke-width="1"/>
<circle cx="389.4" cy="973.4" r="4.3" fill="#ed1c24" stroke="#231f20" stroke-width="1"/>
<circle cx="434.2" cy="1013.9" r="4.3" fill="#ed1c24" stroke="#231f20" stroke-width="1"/>
<circle cx="502.4" cy="1107.9" r="4.3" fill="#ed1c24" stroke="#231f20" stroke-width="1"/>
<circle cx="570.4" cy="904.9" r="4.3" fill="#ed1c24" stroke="#231f20" stroke-width="1"/>
<circle cx="638.7" cy="1009" r="4.3" fill="#ed1c24" stroke="#231f20" stroke-width="1"/>
<circle cx="709" cy="999.9" r="4.3" fill="#ed1c24" stroke="#231f20" stroke-width="1"/>
<circle cx="779.2" cy="1100.8" r="4.3" fill="#ed1c24" stroke="#231f20" stroke-width="1"/>
<circle cx="849.5" cy="1152.4" r="4.3" fill="#ed1c24" stroke="#231f20" stroke-width="1"/>
<circle cx="870.4" cy="1156.7" r="4.3" fill="#ed1c24" stroke="#231f20" stroke-width="1"/>
<circle cx="891" cy="1149.5" r="4.3" fill="#ed1c24" stroke="#231f20" stroke-width="1"/>
<circle cx="912.5" cy="1143.2" r="4.3" fill="#ed1c24" stroke="#231f20" stroke-width="1"/>
<circle cx="921.1" cy="1163.3" r="4.3" fill="#ed1c24" stroke="#231f20" stroke-width="1"/>
<circle cx="929.7" cy="1172.5" r="4.3" fill="#ed1c24" stroke="#231f20" stroke-width="1"/>
<circle cx="938.9" cy="1164.7" r="4.3" fill="#ed1c24" stroke="#231f20" stroke-width="1"/>
<circle cx="962.1" cy="1156.7" r="4.3" fill="#ed1c24" stroke="#231f20" stroke-width="1"/>
<circle cx="985.7" cy="1164.2" r="4.3" fill="#ed1c24" stroke="#231f20" stroke-width="1"/>
<circle cx="1009.3" cy="1140.8" r="4.3" fill="#ed1c24" stroke="#231f20" stroke-width="1"/>
<circle cx="1032.7" cy="1168.4" r="4.3" fill="#ed1c24" stroke="#231f20" stroke-width="1"/>
<circle cx="1056.3" cy="1136.6" r="4.3" fill="#ed1c24" stroke="#231f20" stroke-width="1"/>
<circle cx="1079.6" cy="1149.9" r="4.3" fill="#ed1c24" stroke="#231f20" stroke-width="1"/>
<text x="254.32" y="961.90" font-size="34.5" font-weight="bold" fill="#231f20" textLength="47.74" lengthAdjust="spacingAndGlyphs"><tspan>(d)</tspan></text>
<text x="339.67" y="934.80" font-size="26.4" font-weight="normal" fill="#ed1c24" textLength="218.85" lengthAdjust="spacingAndGlyphs"><tspan>MID03-This study</tspan></text>
<text x="304.34" y="963.20" font-size="26.4" font-weight="normal" fill="#ed1c24" textLength="301.02" lengthAdjust="spacingAndGlyphs"><tspan>(20.32°  N, West Pacific)</tspan></text>
<line x1="911.1" y1="1044.9" x2="698.0" y2="954.8" stroke="#ed1c24" stroke-width="3" stroke-linecap="butt"/>
<polygon points="684.4,949.1 707.3,948.9 700.5,965.3" fill="#ed1c24"/>
<text transform="translate(662.02,919.78) rotate(20.0)" font-size="30" font-weight="bold" fill="#ed1c24" textLength="296.86" lengthAdjust="spacingAndGlyphs">Phosphate weather</text>
<text transform="translate(1286.30,995.82) rotate(90)" font-size="24" font-weight="normal" fill="#ed1c24" textLength="121.74" lengthAdjust="spacingAndGlyphs"><tspan>P/Fe-MID</tspan></text>
<line x1="211.0" y1="1382.4" x2="243.0" y2="1382.4" stroke="#231f20" stroke-width="3.0" stroke-linecap="butt"/>
<line x1="211.0" y1="1305.7" x2="243.0" y2="1305.7" stroke="#231f20" stroke-width="3.0" stroke-linecap="butt"/>
<line x1="211.0" y1="1229.1" x2="243.0" y2="1229.1" stroke="#231f20" stroke-width="3.0" stroke-linecap="butt"/>
<line x1="211.0" y1="1152.4" x2="243.0" y2="1152.4" stroke="#231f20" stroke-width="3.0" stroke-linecap="butt"/>
<line x1="223.5" y1="1344.1" x2="243.0" y2="1344.1" stroke="#231f20" stroke-width="3.0" stroke-linecap="butt"/>
<line x1="223.5" y1="1267.4" x2="243.0" y2="1267.4" stroke="#231f20" stroke-width="3.0" stroke-linecap="butt"/>
<line x1="223.5" y1="1190.7" x2="243.0" y2="1190.7" stroke="#231f20" stroke-width="3.0" stroke-linecap="butt"/>
<text x="154.86" y="1158.09" font-size="27" font-weight="normal" fill="#231f20" textLength="38.66" lengthAdjust="spacingAndGlyphs">0.8</text>
<text x="154.86" y="1234.76" font-size="27" font-weight="normal" fill="#231f20" textLength="38.66" lengthAdjust="spacingAndGlyphs">0.6</text>
<text x="154.44" y="1311.43" font-size="27" font-weight="normal" fill="#231f20" textLength="38.66" lengthAdjust="spacingAndGlyphs">0.4</text>
<text x="155.00" y="1388.10" font-size="27" font-weight="normal" fill="#231f20" textLength="38.66" lengthAdjust="spacingAndGlyphs">0.2</text>
<polyline points="241.7,1236.0 247.7,1239.5 249.5,1242.9 251.7,1243.8 252.9,1253.2 253.8,1258.4 258.9,1261.8 265.8,1264.9 274.4,1268.4 281.3,1277.3 285.6,1285.9 289.9,1285.1 298.5,1280.8 303.7,1279.4 308.8,1282.1 312.3,1279.9 322.6,1276.5 332.9,1270.1 341.5,1266.3 347.5,1270.4 355.3,1268.7 361.3,1264.9 368.2,1251.5 368.7,1237.7 373.8,1232.9 374.2,1223.1 380.2,1218.0 382.8,1211.1 391.4,1195.1 391.4,1176.7 402.6,1171.5 409.5,1179.2 415.5,1175.8 415.8,1167.2 420.6,1170.6 425.8,1179.2 437.8,1193.9 455.9,1220.9 460.0,1218.2 464.3,1214.9 472.9,1211.3 476.1,1214.9 478.3,1227.8 488.0,1226.3 492.3,1237.5 493.3,1241.8 494.0,1228.5 495.5,1235.4 500.9,1241.8 508.4,1247.8 513.8,1259.0 516.3,1275.8 519.1,1268.7 525.6,1277.3 531.0,1277.3 541.7,1289.1 549.2,1296.0 556.8,1299.5 565.4,1305.3 571.8,1311.7 577.2,1315.4 583.7,1311.7 586.9,1305.9 593.3,1298.8 595.1,1289.1 601.9,1284.8 609.5,1284.8 610.5,1281.6 612.7,1292.4 618.1,1295.6 622.4,1302.0 628.8,1302.0 633.1,1300.3 642.8,1292.4 647.1,1293.4 650.3,1296.7 656.8,1309.6 665.4,1319.2 668.6,1318.8 675.1,1314.9 680.4,1313.2 683.7,1302.0 690.1,1290.2 692.3,1278.4 698.7,1252.6 700.9,1233.2 701.9,1220.3 706.2,1189.1 706.5,1194.5 712.9,1176.2 714.0,1169.8 722.6,1165.5 723.2,1155.8 726.9,1164.4 736.6,1171.9 743.0,1171.9 746.2,1156.9 747.3,1173.0 752.7,1192.4 753.8,1205.3 756.3,1211.7 757.0,1246.1 759.1,1252.6 766.7,1258.0 776.3,1270.9 782.8,1259.0 794.6,1251.5 820.4,1247.2 829.0,1260.1 829.5,1248.3 831.2,1263.3 833.8,1282.6 837.6,1291.4 846.3,1291.4 852.6,1288.1 857.6,1295.2 861.4,1306.5 880.2,1334.1 892.8,1350.4 904.1,1362.9 911.6,1372.4 917.8,1375.9 931.6,1380.0 958.0,1380.0 963.0,1382.2 974.3,1378.5 978.1,1373.7 995.6,1369.9 1015.7,1369.9 1027.0,1376.2 1045.8,1376.2 1065.9,1373.7 1092.2,1373.7 1113.5,1378.0 1121.1,1378.0 1151.2,1385.7" fill="none" stroke="#a44886" stroke-width="2.8" stroke-linejoin="round" stroke-linecap="round" />
<text x="258.43" y="1161.40" font-size="35" font-weight="bold" fill="#231f20" textLength="45.32" lengthAdjust="spacingAndGlyphs"><tspan>(e)</tspan></text>
<text x="368.77" y="1129.50" font-size="25.5" font-weight="normal" fill="#a44886" textLength="166.49" lengthAdjust="spacingAndGlyphs"><tspan>ODP Site 849</tspan></text>
<text x="312.03" y="1161.90" font-size="25.3" font-weight="normal" fill="#a44886" textLength="438.72" lengthAdjust="spacingAndGlyphs"><tspan>(0.18°N, Eastern Equatorial Pacific)</tspan></text>
<text transform="translate(123.30,1395.82) rotate(-90)" font-size="25.5" font-weight="normal" fill="#a44886" textLength="255.89" lengthAdjust="spacingAndGlyphs"><tspan>Opal flux (g cm</tspan><tspan dy="-9.18" font-size="15.30">-2</tspan><tspan dy="9.18"> ka</tspan><tspan dy="-9.18" font-size="15.30">-1</tspan><tspan dy="9.18">)</tspan></text>
<polygon points="1221.2,1192.2 1255.8,1192.2 1238.1,1398.7" fill="#c994c0"/>
<rect x="1225.0" y="1206.5" width="25" height="6" fill="#fff"/>
<rect x="1234.5" y="1197.0" width="6" height="25" fill="#fff"/>
<text transform="translate(1281.80,1201.06) rotate(90)" font-size="26" font-weight="bold" fill="#a44886" textLength="163.71" lengthAdjust="spacingAndGlyphs"><tspan>Productivity</tspan></text>
<line x1="1165.0" y1="1625.5" x2="1197.0" y2="1625.5" stroke="#231f20" stroke-width="3.0" stroke-linecap="butt"/>
<line x1="1165.0" y1="1579.5" x2="1197.0" y2="1579.5" stroke="#231f20" stroke-width="3.0" stroke-linecap="butt"/>
<line x1="1165.0" y1="1533.5" x2="1197.0" y2="1533.5" stroke="#231f20" stroke-width="3.0" stroke-linecap="butt"/>
<line x1="1165.0" y1="1487.5" x2="1197.0" y2="1487.5" stroke="#231f20" stroke-width="3.0" stroke-linecap="butt"/>
<line x1="1165.0" y1="1441.5" x2="1197.0" y2="1441.5" stroke="#231f20" stroke-width="3.0" stroke-linecap="butt"/>
<line x1="1165.0" y1="1395.5" x2="1197.0" y2="1395.5" stroke="#231f20" stroke-width="3.0" stroke-linecap="butt"/>
<line x1="1165.0" y1="1602.5" x2="1181.5" y2="1602.5" stroke="#231f20" stroke-width="3.0" stroke-linecap="butt"/>
<line x1="1165.0" y1="1556.5" x2="1181.5" y2="1556.5" stroke="#231f20" stroke-width="3.0" stroke-linecap="butt"/>
<line x1="1165.0" y1="1510.5" x2="1181.5" y2="1510.5" stroke="#231f20" stroke-width="3.0" stroke-linecap="butt"/>
<line x1="1165.0" y1="1464.5" x2="1181.5" y2="1464.5" stroke="#231f20" stroke-width="3.0" stroke-linecap="butt"/>
<line x1="1165.0" y1="1418.5" x2="1181.5" y2="1418.5" stroke="#231f20" stroke-width="3.0" stroke-linecap="butt"/>
<text x="1203.89" y="1404.10" font-size="21.7" font-weight="normal" fill="#231f20" textLength="25.47" lengthAdjust="spacingAndGlyphs">50</text>
<text x="1203.89" y="1450.10" font-size="21.7" font-weight="normal" fill="#231f20" textLength="25.47" lengthAdjust="spacingAndGlyphs">40</text>
<text x="1203.89" y="1496.10" font-size="21.7" font-weight="normal" fill="#231f20" textLength="25.47" lengthAdjust="spacingAndGlyphs">30</text>
<text x="1203.89" y="1542.10" font-size="21.7" font-weight="normal" fill="#231f20" textLength="25.47" lengthAdjust="spacingAndGlyphs">20</text>
<text x="1203.89" y="1588.10" font-size="21.7" font-weight="normal" fill="#231f20" textLength="25.47" lengthAdjust="spacingAndGlyphs">10</text>
<text x="1215.10" y="1634.10" font-size="21.7" font-weight="normal" fill="#231f20" textLength="12.73" lengthAdjust="spacingAndGlyphs">0</text>
<polyline points="262.9,1581.4 303.8,1578.6 347.1,1587.6 389.6,1594.5 430.0,1498.8 471.0,1509.1 517.1,1462.5 556.1,1474.8 598.5,1500.1 638.6,1416.8 683.4,1439.3 723.5,1445.7 766.0,1465.7 808.4,1406.1 848.5,1494.4 888.6,1556.3 932.5,1560.5 974.9,1572.4 1016.0,1554.0 1057.5,1587.8 1098.8,1598.1 1142.4,1580.4" fill="none" stroke="#f5821f" stroke-width="3" stroke-linejoin="round" stroke-linecap="round" />
<circle cx="262.9" cy="1581.4" r="4.4" fill="#f5821f" stroke="#231f20" stroke-width="0.9"/>
<circle cx="303.8" cy="1578.6" r="4.4" fill="#f5821f" stroke="#231f20" stroke-width="0.9"/>
<circle cx="347.1" cy="1587.6" r="4.4" fill="#f5821f" stroke="#231f20" stroke-width="0.9"/>
<circle cx="389.6" cy="1594.5" r="4.4" fill="#f5821f" stroke="#231f20" stroke-width="0.9"/>
<circle cx="430" cy="1498.8" r="4.4" fill="#f5821f" stroke="#231f20" stroke-width="0.9"/>
<circle cx="471" cy="1509.1" r="4.4" fill="#f5821f" stroke="#231f20" stroke-width="0.9"/>
<circle cx="517.1" cy="1462.5" r="4.4" fill="#f5821f" stroke="#231f20" stroke-width="0.9"/>
<circle cx="556.1" cy="1474.8" r="4.4" fill="#f5821f" stroke="#231f20" stroke-width="0.9"/>
<circle cx="598.5" cy="1500.1" r="4.4" fill="#f5821f" stroke="#231f20" stroke-width="0.9"/>
<circle cx="638.6" cy="1416.8" r="4.4" fill="#f5821f" stroke="#231f20" stroke-width="0.9"/>
<circle cx="683.4" cy="1439.3" r="4.4" fill="#f5821f" stroke="#231f20" stroke-width="0.9"/>
<circle cx="723.5" cy="1445.7" r="4.4" fill="#f5821f" stroke="#231f20" stroke-width="0.9"/>
<circle cx="766" cy="1465.7" r="4.4" fill="#f5821f" stroke="#231f20" stroke-width="0.9"/>
<circle cx="808.4" cy="1406.1" r="4.4" fill="#f5821f" stroke="#231f20" stroke-width="0.9"/>
<circle cx="848.5" cy="1494.4" r="4.4" fill="#f5821f" stroke="#231f20" stroke-width="0.9"/>
<circle cx="888.6" cy="1556.3" r="4.4" fill="#f5821f" stroke="#231f20" stroke-width="0.9"/>
<circle cx="932.5" cy="1560.5" r="4.4" fill="#f5821f" stroke="#231f20" stroke-width="0.9"/>
<circle cx="974.9" cy="1572.4" r="4.4" fill="#f5821f" stroke="#231f20" stroke-width="0.9"/>
<circle cx="1016" cy="1554" r="4.4" fill="#f5821f" stroke="#231f20" stroke-width="0.9"/>
<circle cx="1057.5" cy="1587.8" r="4.4" fill="#f5821f" stroke="#231f20" stroke-width="0.9"/>
<circle cx="1098.8" cy="1598.1" r="4.4" fill="#f5821f" stroke="#231f20" stroke-width="0.9"/>
<circle cx="1142.4" cy="1580.4" r="4.4" fill="#f5821f" stroke="#231f20" stroke-width="0.9"/>
<polyline points="265.2,1587.1 307.7,1589.9 345.5,1569.2 390.3,1564.2 431.6,1569.9 474.0,1567.6 513.0,1538.5 555.5,1534.0 599.2,1506.5 640.3,1483.4 681.8,1488.2 722.8,1466.4 765.5,1482.2 806.8,1454.9 848.0,1469.1 890.5,1517.3 934.1,1539.1 973.1,1520.8 1015.5,1539.1 1057.9,1542.6 1098.1,1534.1 1142.8,1543.7" fill="none" stroke="#ec008c" stroke-width="3" stroke-linejoin="round" stroke-linecap="round" />
<polygon points="265.2,1580.6 271.7,1587.1 265.2,1593.6 258.7,1587.1" fill="#ec008c" stroke="#231f20" stroke-width="0.9"/>
<polygon points="307.7,1583.4 314.2,1589.9 307.7,1596.4 301.2,1589.9" fill="#ec008c" stroke="#231f20" stroke-width="0.9"/>
<polygon points="345.5,1562.7 352.0,1569.2 345.5,1575.7 339.0,1569.2" fill="#ec008c" stroke="#231f20" stroke-width="0.9"/>
<polygon points="390.3,1557.7 396.8,1564.2 390.3,1570.7 383.8,1564.2" fill="#ec008c" stroke="#231f20" stroke-width="0.9"/>
<polygon points="431.6,1563.4 438.1,1569.9 431.6,1576.4 425.1,1569.9" fill="#ec008c" stroke="#231f20" stroke-width="0.9"/>
<polygon points="474.0,1561.1 480.5,1567.6 474.0,1574.1 467.5,1567.6" fill="#ec008c" stroke="#231f20" stroke-width="0.9"/>
<polygon points="513.0,1532.0 519.5,1538.5 513.0,1545.0 506.5,1538.5" fill="#ec008c" stroke="#231f20" stroke-width="0.9"/>
<polygon points="555.5,1527.5 562.0,1534.0 555.5,1540.5 549.0,1534.0" fill="#ec008c" stroke="#231f20" stroke-width="0.9"/>
<polygon points="599.2,1500.0 605.7,1506.5 599.2,1513.0 592.7,1506.5" fill="#ec008c" stroke="#231f20" stroke-width="0.9"/>
<polygon points="640.3,1476.9 646.8,1483.4 640.3,1489.9 633.8,1483.4" fill="#ec008c" stroke="#231f20" stroke-width="0.9"/>
<polygon points="681.8,1481.7 688.3,1488.2 681.8,1494.7 675.3,1488.2" fill="#ec008c" stroke="#231f20" stroke-width="0.9"/>
<polygon points="722.8,1459.9 729.3,1466.4 722.8,1472.9 716.3,1466.4" fill="#ec008c" stroke="#231f20" stroke-width="0.9"/>
<polygon points="765.5,1475.7 772.0,1482.2 765.5,1488.7 759.0,1482.2" fill="#ec008c" stroke="#231f20" stroke-width="0.9"/>
<polygon points="806.8,1448.4 813.3,1454.9 806.8,1461.4 800.3,1454.9" fill="#ec008c" stroke="#231f20" stroke-width="0.9"/>
<polygon points="848.0,1462.6 854.5,1469.1 848.0,1475.6 841.5,1469.1" fill="#ec008c" stroke="#231f20" stroke-width="0.9"/>
<polygon points="890.5,1510.8 897.0,1517.3 890.5,1523.8 884.0,1517.3" fill="#ec008c" stroke="#231f20" stroke-width="0.9"/>
<polygon points="934.1,1532.6 940.6,1539.1 934.1,1545.6 927.6,1539.1" fill="#ec008c" stroke="#231f20" stroke-width="0.9"/>
<polygon points="973.1,1514.3 979.6,1520.8 973.1,1527.3 966.6,1520.8" fill="#ec008c" stroke="#231f20" stroke-width="0.9"/>
<polygon points="1015.5,1532.6 1022.0,1539.1 1015.5,1545.6 1009.0,1539.1" fill="#ec008c" stroke="#231f20" stroke-width="0.9"/>
<polygon points="1057.9,1536.1 1064.4,1542.6 1057.9,1549.1 1051.4,1542.6" fill="#ec008c" stroke="#231f20" stroke-width="0.9"/>
<polygon points="1098.1,1527.6 1104.6,1534.1 1098.1,1540.6 1091.6,1534.1" fill="#ec008c" stroke="#231f20" stroke-width="0.9"/>
<polygon points="1142.8,1537.2 1149.3,1543.7 1142.8,1550.2 1136.3,1543.7" fill="#ec008c" stroke="#231f20" stroke-width="0.9"/>
<polyline points="262.9,1604.3 308.1,1599.0 350.6,1594.5 433.2,1594.0 473.5,1598.1 516.0,1610.0 556.1,1586.1 600.8,1567.8 639.8,1559.8 685.0,1542.1 725.4,1522.4 766.4,1546.5 806.6,1524.2 847.7,1528.8 893.2,1573.1 934.1,1582.7 975.4,1606.1 1019.4,1602.9 1060.2,1602.9 1101.5,1613.7 1141.7,1612.5" fill="none" stroke="#a44886" stroke-width="3" stroke-linejoin="round" stroke-linecap="round" />
<rect x="256.9" y="1598.3" width="12" height="12" fill="#a44886" stroke="#231f20" stroke-width="0.9"/>
<rect x="302.1" y="1593.0" width="12" height="12" fill="#a44886" stroke="#231f20" stroke-width="0.9"/>
<rect x="344.6" y="1588.5" width="12" height="12" fill="#a44886" stroke="#231f20" stroke-width="0.9"/>
<rect x="427.2" y="1588.0" width="12" height="12" fill="#a44886" stroke="#231f20" stroke-width="0.9"/>
<rect x="467.5" y="1592.1" width="12" height="12" fill="#a44886" stroke="#231f20" stroke-width="0.9"/>
<rect x="510.0" y="1604.0" width="12" height="12" fill="#a44886" stroke="#231f20" stroke-width="0.9"/>
<rect x="550.1" y="1580.1" width="12" height="12" fill="#a44886" stroke="#231f20" stroke-width="0.9"/>
<rect x="594.8" y="1561.8" width="12" height="12" fill="#a44886" stroke="#231f20" stroke-width="0.9"/>
<rect x="633.8" y="1553.8" width="12" height="12" fill="#a44886" stroke="#231f20" stroke-width="0.9"/>
<rect x="679.0" y="1536.1" width="12" height="12" fill="#a44886" stroke="#231f20" stroke-width="0.9"/>
<rect x="719.4" y="1516.4" width="12" height="12" fill="#a44886" stroke="#231f20" stroke-width="0.9"/>
<rect x="760.4" y="1540.5" width="12" height="12" fill="#a44886" stroke="#231f20" stroke-width="0.9"/>
<rect x="800.6" y="1518.2" width="12" height="12" fill="#a44886" stroke="#231f20" stroke-width="0.9"/>
<rect x="841.7" y="1522.8" width="12" height="12" fill="#a44886" stroke="#231f20" stroke-width="0.9"/>
<rect x="887.2" y="1567.1" width="12" height="12" fill="#a44886" stroke="#231f20" stroke-width="0.9"/>
<rect x="928.1" y="1576.7" width="12" height="12" fill="#a44886" stroke="#231f20" stroke-width="0.9"/>
<rect x="969.4" y="1600.1" width="12" height="12" fill="#a44886" stroke="#231f20" stroke-width="0.9"/>
<rect x="1013.4" y="1596.9" width="12" height="12" fill="#a44886" stroke="#231f20" stroke-width="0.9"/>
<rect x="1054.2" y="1596.9" width="12" height="12" fill="#a44886" stroke="#231f20" stroke-width="0.9"/>
<rect x="1095.5" y="1607.7" width="12" height="12" fill="#a44886" stroke="#231f20" stroke-width="0.9"/>
<rect x="1135.7" y="1606.5" width="12" height="12" fill="#a44886" stroke="#231f20" stroke-width="0.9"/>
<text x="265.05" y="1396.00" font-size="35" font-weight="bold" fill="#231f20" textLength="38.75" lengthAdjust="spacingAndGlyphs"><tspan>(f)</tspan></text>
<line x1="311.1" y1="1376.5" x2="401.7" y2="1376.5" stroke="#f5821f" stroke-width="3" stroke-linecap="butt"/>
<circle cx="356.5" cy="1376.5" r="9.2" fill="#f5821f" stroke="#231f20" stroke-width="1"/>
<line x1="312.3" y1="1410.0" x2="402.9" y2="1410.0" stroke="#ec008c" stroke-width="3" stroke-linecap="butt"/>
<polygon points="357,1400.2 366.8,1410 357,1419.8 347.2,1410" fill="#ec008c" stroke="#231f20" stroke-width="1"/>
<line x1="313.4" y1="1446.5" x2="404.0" y2="1446.5" stroke="#a44886" stroke-width="3" stroke-linecap="butt"/>
<rect x="349.4" y="1437.8" width="17.4" height="17.4" fill="#a44886" stroke="#231f20" stroke-width="1"/>
<text x="415.72" y="1384.70" font-size="26" font-weight="normal" fill="#231f20" textLength="83.80" lengthAdjust="spacingAndGlyphs"><tspan>Pacific</tspan></text>
<text x="418.00" y="1419.30" font-size="25.6" font-weight="normal" fill="#231f20" textLength="94.60" lengthAdjust="spacingAndGlyphs"><tspan>Atlantic</tspan></text>
<text x="415.44" y="1454.50" font-size="25.8" font-weight="normal" fill="#231f20" textLength="77.46" lengthAdjust="spacingAndGlyphs"><tspan>Indian</tspan></text>
<polygon points="128.8,1406.3 163.8,1406.3 145.5,1613.6" fill="#fbbd87"/>
<rect x="134.3" y="1421.3" width="25" height="6" fill="#fff"/>
<rect x="143.8" y="1411.8" width="6" height="25" fill="#fff"/>
<text transform="translate(111.80,1600.39) rotate(-90)" font-size="26" font-weight="bold" fill="#f5821f" textLength="191.33" lengthAdjust="spacingAndGlyphs"><tspan>CaCO</tspan><tspan dy="5.20" font-size="15.60">3</tspan><tspan dy="-5.20"> content</tspan></text>
<text transform="translate(1275.20,1422.20) rotate(90)" font-size="24" font-weight="normal" fill="#f5821f" textLength="150.38" lengthAdjust="spacingAndGlyphs"><tspan>Accumulation</tspan></text>
<text transform="translate(1246.90,1421.68) rotate(90)" font-size="24" font-weight="normal" fill="#f5821f" textLength="209.35" lengthAdjust="spacingAndGlyphs"><tspan>CaCO</tspan><tspan dy="-8.64" font-size="14.40">3</tspan><tspan dy="8.64"> (g/m</tspan><tspan dy="-8.64" font-size="14.40">2</tspan><tspan dy="8.64">/a)</tspan></text>
<line x1="208.4" y1="1846.6" x2="243.0" y2="1846.6" stroke="#231f20" stroke-width="3.0" stroke-linecap="butt"/>
<line x1="208.4" y1="1789.2" x2="243.0" y2="1789.2" stroke="#231f20" stroke-width="3.0" stroke-linecap="butt"/>
<line x1="208.4" y1="1731.9" x2="243.0" y2="1731.9" stroke="#231f20" stroke-width="3.0" stroke-linecap="butt"/>
<line x1="208.4" y1="1674.5" x2="243.0" y2="1674.5" stroke="#231f20" stroke-width="3.0" stroke-linecap="butt"/>
<line x1="208.4" y1="1617.2" x2="243.0" y2="1617.2" stroke="#231f20" stroke-width="3.0" stroke-linecap="butt"/>
<line x1="225.3" y1="1817.9" x2="243.0" y2="1817.9" stroke="#231f20" stroke-width="3.0" stroke-linecap="butt"/>
<line x1="225.3" y1="1760.6" x2="243.0" y2="1760.6" stroke="#231f20" stroke-width="3.0" stroke-linecap="butt"/>
<line x1="225.3" y1="1703.2" x2="243.0" y2="1703.2" stroke="#231f20" stroke-width="3.0" stroke-linecap="butt"/>
<line x1="225.3" y1="1645.9" x2="243.0" y2="1645.9" stroke="#231f20" stroke-width="3.0" stroke-linecap="butt"/>
<text x="167.52" y="1624.80" font-size="26.5" font-weight="normal" fill="#231f20" textLength="30.51" lengthAdjust="spacingAndGlyphs">50</text>
<text x="167.52" y="1682.15" font-size="26.5" font-weight="normal" fill="#231f20" textLength="30.51" lengthAdjust="spacingAndGlyphs">40</text>
<text x="167.52" y="1739.50" font-size="26.5" font-weight="normal" fill="#231f20" textLength="30.51" lengthAdjust="spacingAndGlyphs">30</text>
<text x="167.52" y="1796.85" font-size="26.5" font-weight="normal" fill="#231f20" textLength="30.51" lengthAdjust="spacingAndGlyphs">20</text>
<text x="167.52" y="1854.20" font-size="26.5" font-weight="normal" fill="#231f20" textLength="30.51" lengthAdjust="spacingAndGlyphs">10</text>
<polyline points="443.2,1791.0 451.2,1754.4 460.4,1740.4 466.9,1785.6 471.6,1768.4 473.8,1787.3 481.3,1790.3 487.7,1786.7 492.7,1811.0 501.3,1740.0 517.8,1757.6 524.3,1795.3 528.6,1791.0 530.1,1770.5 532.9,1775.9 538.7,1768.4 541.5,1837.2 545.8,1809.2 545.8,1786.7 550.1,1795.3 552.9,1773.8 557.6,1772.7 559.4,1782.4 563.7,1759.8 567.3,1777.0 577.4,1737.2 593.1,1789.9 596.8,1746.9 601.7,1728.6 607.1,1800.6 613.5,1778.7 617.8,1792.0 638.9,1783.9 643.2,1831.8 649.7,1757.6 657.6,1799.6 663.0,1786.7 663.0,1746.9 669.5,1718.9 672.7,1660.9 678.1,1760.9 684.5,1739.4 688.8,1646.9 693.3,1748.0 699.4,1742.6 703.2,1730.8 709.0,1628.6 710.5,1781.3 714.0,1662.6 717.0,1763.0 720.9,1701.7 732.0,1634.0 742.4,1666.2 751.4,1726.5 762.8,1708.2 785.4,1650.1 795.1,1634.0 806.9,1770.5 817.2,1778.1 828.4,1746.9 835.3,1659.8 843.0,1754.4 855.3,1765.2 861.7,1765.2 868.8,1778.1 883.2,1788.8 896.1,1791.0 909.7,1724.9 915.5,1788.8 923.0,1769.5 937.6,1760.9 944.1,1788.2" fill="none" stroke="#806b64" stroke-width="4" stroke-linejoin="round" stroke-linecap="round" />
<text x="253.13" y="1644.80" font-size="34.3" font-weight="bold" fill="#231f20" textLength="47.52" lengthAdjust="spacingAndGlyphs"><tspan>(g)</tspan></text>
<text x="365.87" y="1642.50" font-size="25.5" font-weight="normal" fill="#806860" textLength="182.20" lengthAdjust="spacingAndGlyphs"><tspan>ODP Site 1088</tspan></text>
<text x="301.73" y="1674.80" font-size="25.3" font-weight="normal" fill="#806860" textLength="350.05" lengthAdjust="spacingAndGlyphs"><tspan>(41°08.2′S,Southern Ocean)</tspan></text>
<text transform="translate(129.10,1634.71) rotate(90)" font-size="26" font-weight="normal" fill="#806860" textLength="217.60" lengthAdjust="spacingAndGlyphs"><tspan>Paleoproductivity</tspan></text>
<text transform="translate(100.20,1670.90) rotate(90)" font-size="26" font-weight="normal" fill="#806860" textLength="125.68" lengthAdjust="spacingAndGlyphs"><tspan>(g/cm</tspan><tspan dy="-9.36" font-size="15.60">2</tspan><tspan dy="9.36">/ky)</tspan></text>
<polygon points="1218.1,1669.4 1253.5,1669.4 1235.8,1876.1" fill="#b9a9a4"/>
<rect x="1222.8" y="1683.5" width="25" height="6" fill="#fff"/>
<rect x="1232.3" y="1674.0" width="6" height="25" fill="#fff"/>
<text transform="translate(1274.60,1675.46) rotate(90)" font-size="26" font-weight="bold" fill="#806b64" textLength="163.51" lengthAdjust="spacingAndGlyphs"><tspan>Productivity</tspan></text>
<line x1="211.0" y1="1899.6" x2="243.0" y2="1899.6" stroke="#231f20" stroke-width="3.0" stroke-linecap="butt"/>
<line x1="211.0" y1="1957.1" x2="243.0" y2="1957.1" stroke="#231f20" stroke-width="3.0" stroke-linecap="butt"/>
<line x1="211.0" y1="2014.6" x2="243.0" y2="2014.6" stroke="#231f20" stroke-width="3.0" stroke-linecap="butt"/>
<line x1="211.0" y1="2072.1" x2="243.0" y2="2072.1" stroke="#231f20" stroke-width="3.0" stroke-linecap="butt"/>
<line x1="211.0" y1="2129.6" x2="243.0" y2="2129.6" stroke="#231f20" stroke-width="3.0" stroke-linecap="butt"/>
<line x1="226.5" y1="1928.3" x2="243.0" y2="1928.3" stroke="#231f20" stroke-width="3.0" stroke-linecap="butt"/>
<line x1="226.5" y1="1985.8" x2="243.0" y2="1985.8" stroke="#231f20" stroke-width="3.0" stroke-linecap="butt"/>
<line x1="226.5" y1="2043.3" x2="243.0" y2="2043.3" stroke="#231f20" stroke-width="3.0" stroke-linecap="butt"/>
<line x1="226.5" y1="2100.8" x2="243.0" y2="2100.8" stroke="#231f20" stroke-width="3.0" stroke-linecap="butt"/>
<text x="154.57" y="1907.20" font-size="22" font-weight="normal" fill="#231f20" textLength="45.60" lengthAdjust="spacingAndGlyphs">0.03</text>
<text x="143.36" y="1964.70" font-size="22" font-weight="normal" fill="#231f20" textLength="58.63" lengthAdjust="spacingAndGlyphs">0.035</text>
<text x="154.21" y="2022.20" font-size="22" font-weight="normal" fill="#231f20" textLength="45.60" lengthAdjust="spacingAndGlyphs">0.04</text>
<text x="143.36" y="2079.70" font-size="22" font-weight="normal" fill="#231f20" textLength="58.63" lengthAdjust="spacingAndGlyphs">0.045</text>
<text x="154.57" y="2137.20" font-size="22" font-weight="normal" fill="#231f20" textLength="45.60" lengthAdjust="spacingAndGlyphs">0.05</text>
<line x1="1165.0" y1="2129.0" x2="1197.0" y2="2129.0" stroke="#231f20" stroke-width="3.0" stroke-linecap="butt"/>
<line x1="1165.0" y1="2071.5" x2="1197.0" y2="2071.5" stroke="#231f20" stroke-width="3.0" stroke-linecap="butt"/>
<line x1="1165.0" y1="2014.0" x2="1197.0" y2="2014.0" stroke="#231f20" stroke-width="3.0" stroke-linecap="butt"/>
<line x1="1165.0" y1="1956.5" x2="1197.0" y2="1956.5" stroke="#231f20" stroke-width="3.0" stroke-linecap="butt"/>
<line x1="1165.0" y1="1899.0" x2="1197.0" y2="1899.0" stroke="#231f20" stroke-width="3.0" stroke-linecap="butt"/>
<line x1="1165.0" y1="2100.2" x2="1181.5" y2="2100.2" stroke="#231f20" stroke-width="3.0" stroke-linecap="butt"/>
<line x1="1165.0" y1="2042.8" x2="1181.5" y2="2042.8" stroke="#231f20" stroke-width="3.0" stroke-linecap="butt"/>
<line x1="1165.0" y1="1985.2" x2="1181.5" y2="1985.2" stroke="#231f20" stroke-width="3.0" stroke-linecap="butt"/>
<line x1="1165.0" y1="1927.8" x2="1181.5" y2="1927.8" stroke="#231f20" stroke-width="3.0" stroke-linecap="butt"/>
<text x="1210.18" y="1906.35" font-size="26.3" font-weight="normal" fill="#231f20" textLength="14.63" lengthAdjust="spacingAndGlyphs">6</text>
<text x="1210.45" y="1963.85" font-size="26.3" font-weight="normal" fill="#231f20" textLength="14.63" lengthAdjust="spacingAndGlyphs">5</text>
<text x="1210.97" y="2021.35" font-size="26.3" font-weight="normal" fill="#231f20" textLength="14.63" lengthAdjust="spacingAndGlyphs">4</text>
<text x="1210.58" y="2078.85" font-size="26.3" font-weight="normal" fill="#231f20" textLength="14.63" lengthAdjust="spacingAndGlyphs">3</text>
<text x="1210.18" y="2136.35" font-size="26.3" font-weight="normal" fill="#231f20" textLength="14.63" lengthAdjust="spacingAndGlyphs">2</text>
<polyline points="255.2,2099.4 280.4,1971.8 304.8,2029.7 349.2,1956.1 394.0,1965.7 438.8,1966.0 506.2,1920.1 574.1,2004.7 641.8,2042.9 711.8,2081.6 781.5,2095.1 851.8,2104.3 872.7,2098.0 893.6,2091.4 914.3,2034.1 922.9,1967.5 931.5,1977.6 940.6,1947.5 963.6,1926.8 987.1,1914.5 1010.9,1929.7 1033.8,1934.0 1057.3,1902.2 1080.6,1913.0" fill="none" stroke="#00aeef" stroke-width="3" stroke-linejoin="round" stroke-linecap="round" />
<rect x="250.7" y="2094.9" width="9" height="9" fill="#00aeef" stroke="#231f20" stroke-width="1.2"/>
<rect x="275.9" y="1967.3" width="9" height="9" fill="#00aeef" stroke="#231f20" stroke-width="1.2"/>
<rect x="300.3" y="2025.2" width="9" height="9" fill="#00aeef" stroke="#231f20" stroke-width="1.2"/>
<rect x="344.7" y="1951.6" width="9" height="9" fill="#00aeef" stroke="#231f20" stroke-width="1.2"/>
<rect x="389.5" y="1961.2" width="9" height="9" fill="#00aeef" stroke="#231f20" stroke-width="1.2"/>
<rect x="434.3" y="1961.5" width="9" height="9" fill="#00aeef" stroke="#231f20" stroke-width="1.2"/>
<rect x="501.7" y="1915.6" width="9" height="9" fill="#00aeef" stroke="#231f20" stroke-width="1.2"/>
<rect x="569.6" y="2000.2" width="9" height="9" fill="#00aeef" stroke="#231f20" stroke-width="1.2"/>
<rect x="637.3" y="2038.4" width="9" height="9" fill="#00aeef" stroke="#231f20" stroke-width="1.2"/>
<rect x="707.3" y="2077.1" width="9" height="9" fill="#00aeef" stroke="#231f20" stroke-width="1.2"/>
<rect x="777.0" y="2090.6" width="9" height="9" fill="#00aeef" stroke="#231f20" stroke-width="1.2"/>
<rect x="847.3" y="2099.8" width="9" height="9" fill="#00aeef" stroke="#231f20" stroke-width="1.2"/>
<rect x="868.2" y="2093.5" width="9" height="9" fill="#00aeef" stroke="#231f20" stroke-width="1.2"/>
<rect x="889.1" y="2086.9" width="9" height="9" fill="#00aeef" stroke="#231f20" stroke-width="1.2"/>
<rect x="909.8" y="2029.6" width="9" height="9" fill="#00aeef" stroke="#231f20" stroke-width="1.2"/>
<rect x="918.4" y="1963.0" width="9" height="9" fill="#00aeef" stroke="#231f20" stroke-width="1.2"/>
<rect x="927.0" y="1973.1" width="9" height="9" fill="#00aeef" stroke="#231f20" stroke-width="1.2"/>
<rect x="936.1" y="1943.0" width="9" height="9" fill="#00aeef" stroke="#231f20" stroke-width="1.2"/>
<rect x="959.1" y="1922.3" width="9" height="9" fill="#00aeef" stroke="#231f20" stroke-width="1.2"/>
<rect x="982.6" y="1910.0" width="9" height="9" fill="#00aeef" stroke="#231f20" stroke-width="1.2"/>
<rect x="1006.4" y="1925.2" width="9" height="9" fill="#00aeef" stroke="#231f20" stroke-width="1.2"/>
<rect x="1029.3" y="1929.5" width="9" height="9" fill="#00aeef" stroke="#231f20" stroke-width="1.2"/>
<rect x="1052.8" y="1897.7" width="9" height="9" fill="#00aeef" stroke="#231f20" stroke-width="1.2"/>
<rect x="1076.1" y="1908.5" width="9" height="9" fill="#00aeef" stroke="#231f20" stroke-width="1.2"/>
<polyline points="255.8,1995.3 281.0,2000.5 305.4,1991.3 349.8,2009.1 394.3,1972.5 439.4,1961.7 507.0,1935.3 575.0,1977.5 642.9,2016.8 712.6,2030.0 782.4,2050.7 852.3,2094.6 873.8,2119.5 894.8,2107.2 914.8,2061.6 924.0,2072.2 932.6,2076.5 941.5,2065.6 964.4,2057.3 988.0,2056.4 1011.5,2052.1 1034.7,2022.9 1058.2,2019.1 1081.7,2061.3" fill="none" stroke="#2e3192" stroke-width="3" stroke-linejoin="round" stroke-linecap="round" />
<polygon points="255.8,1989.7 261.4,1995.3 255.8,2000.9 250.2,1995.3" fill="#2e3192" stroke="#231f20" stroke-width="1.3"/>
<polygon points="281.0,1994.9 286.6,2000.5 281.0,2006.1 275.4,2000.5" fill="#2e3192" stroke="#231f20" stroke-width="1.3"/>
<polygon points="305.4,1985.7 311.0,1991.3 305.4,1996.9 299.8,1991.3" fill="#2e3192" stroke="#231f20" stroke-width="1.3"/>
<polygon points="349.8,2003.5 355.4,2009.1 349.8,2014.7 344.2,2009.1" fill="#2e3192" stroke="#231f20" stroke-width="1.3"/>
<polygon points="394.3,1966.9 399.9,1972.5 394.3,1978.1 388.7,1972.5" fill="#2e3192" stroke="#231f20" stroke-width="1.3"/>
<polygon points="439.4,1956.1 445.0,1961.7 439.4,1967.3 433.8,1961.7" fill="#2e3192" stroke="#231f20" stroke-width="1.3"/>
<polygon points="507.0,1929.7 512.6,1935.3 507.0,1940.9 501.4,1935.3" fill="#2e3192" stroke="#231f20" stroke-width="1.3"/>
<polygon points="575.0,1971.9 580.6,1977.5 575.0,1983.1 569.4,1977.5" fill="#2e3192" stroke="#231f20" stroke-width="1.3"/>
<polygon points="642.9,2011.2 648.5,2016.8 642.9,2022.4 637.3,2016.8" fill="#2e3192" stroke="#231f20" stroke-width="1.3"/>
<polygon points="712.6,2024.4 718.2,2030.0 712.6,2035.6 707.0,2030.0" fill="#2e3192" stroke="#231f20" stroke-width="1.3"/>
<polygon points="782.4,2045.1 788.0,2050.7 782.4,2056.3 776.8,2050.7" fill="#2e3192" stroke="#231f20" stroke-width="1.3"/>
<polygon points="852.3,2089.0 857.9,2094.6 852.3,2100.2 846.7,2094.6" fill="#2e3192" stroke="#231f20" stroke-width="1.3"/>
<polygon points="873.8,2113.9 879.4,2119.5 873.8,2125.1 868.2,2119.5" fill="#2e3192" stroke="#231f20" stroke-width="1.3"/>
<polygon points="894.8,2101.6 900.4,2107.2 894.8,2112.8 889.2,2107.2" fill="#2e3192" stroke="#231f20" stroke-width="1.3"/>
<polygon points="914.8,2056.0 920.4,2061.6 914.8,2067.2 909.2,2061.6" fill="#2e3192" stroke="#231f20" stroke-width="1.3"/>
<polygon points="924.0,2066.6 929.6,2072.2 924.0,2077.8 918.4,2072.2" fill="#2e3192" stroke="#231f20" stroke-width="1.3"/>
<polygon points="932.6,2070.9 938.2,2076.5 932.6,2082.1 927.0,2076.5" fill="#2e3192" stroke="#231f20" stroke-width="1.3"/>
<polygon points="941.5,2060.0 947.1,2065.6 941.5,2071.2 935.9,2065.6" fill="#2e3192" stroke="#231f20" stroke-width="1.3"/>
<polygon points="964.4,2051.7 970.0,2057.3 964.4,2062.9 958.8,2057.3" fill="#2e3192" stroke="#231f20" stroke-width="1.3"/>
<polygon points="988.0,2050.8 993.6,2056.4 988.0,2062.0 982.4,2056.4" fill="#2e3192" stroke="#231f20" stroke-width="1.3"/>
<polygon points="1011.5,2046.5 1017.1,2052.1 1011.5,2057.7 1005.9,2052.1" fill="#2e3192" stroke="#231f20" stroke-width="1.3"/>
<polygon points="1034.7,2017.3 1040.3,2022.9 1034.7,2028.5 1029.1,2022.9" fill="#2e3192" stroke="#231f20" stroke-width="1.3"/>
<polygon points="1058.2,2013.5 1063.8,2019.1 1058.2,2024.7 1052.6,2019.1" fill="#2e3192" stroke="#231f20" stroke-width="1.3"/>
<polygon points="1081.7,2055.7 1087.3,2061.3 1081.7,2066.9 1076.1,2061.3" fill="#2e3192" stroke="#231f20" stroke-width="1.3"/>
<text x="258.33" y="1906.80" font-size="35.2" font-weight="bold" fill="#231f20" textLength="47.41" lengthAdjust="spacingAndGlyphs"><tspan>(h)</tspan></text>
<text x="352.76" y="1884.90" font-size="26.4" font-weight="normal" fill="#00aeef" textLength="219.05" lengthAdjust="spacingAndGlyphs"><tspan>MID03-This study</tspan></text>
<text x="316.63" y="1917.30" font-size="25.6" font-weight="normal" fill="#00aeef" textLength="287.22" lengthAdjust="spacingAndGlyphs"><tspan>(20.32°N, West Pacific)</tspan></text>
<line x1="896.2" y1="2000.5" x2="896.2" y2="1898.0" stroke="#00aeef" stroke-width="3" stroke-linecap="butt"/>
<polygon points="896.2,1880.6 905.7,1901.6 887.6,1901.6" fill="#00aeef"/>
<text x="912.73" y="1889.00" font-size="25.7" font-weight="normal" fill="#00aeef" textLength="189.47" lengthAdjust="spacingAndGlyphs"><tspan>Magnetofossils</tspan></text>
<polygon points="61.1,1898.7 78.9,2105.7 43.9,2105.7" fill="#8a86c4"/>
<rect x="48.6" y="2085.0" width="25" height="6" fill="#fff"/>
<rect x="58.1" y="2075.5" width="6" height="25" fill="#fff"/>
<text transform="translate(20.10,2104.83) rotate(-90)" font-size="26" font-weight="bold" fill="#2e3192" textLength="170.57" lengthAdjust="spacingAndGlyphs"><tspan>Oxygenation</tspan></text>
<text transform="translate(105.50,2135.05) rotate(-90)" font-size="25" font-weight="normal" fill="#2e3192" textLength="211.66" lengthAdjust="spacingAndGlyphs"><tspan>Oxygen sensitive</tspan></text>
<text transform="translate(134.80,2059.75) rotate(-90)" font-size="25" font-weight="normal" fill="#2e3192" textLength="68.16" lengthAdjust="spacingAndGlyphs"><tspan>index</tspan></text>
<text transform="translate(1277.90,2008.00) rotate(90)" font-size="24" font-weight="normal" fill="#00aeef" textLength="59.36" lengthAdjust="spacingAndGlyphs"><tspan>ARM</tspan></text>
<text transform="translate(1249.30,1951.63) rotate(90)" font-size="24" font-weight="normal" fill="#00aeef" textLength="152.35" lengthAdjust="spacingAndGlyphs"><tspan>(10</tspan><tspan dy="-8.64" font-size="14.40">-3</tspan><tspan dy="8.64">Am</tspan><tspan dy="-8.64" font-size="14.40">2</tspan><tspan dy="8.64">/kg)</tspan></text>
<line x1="211.0" y1="2433.0" x2="243.0" y2="2433.0" stroke="#231f20" stroke-width="3.0" stroke-linecap="butt"/>
<line x1="211.0" y1="2386.9" x2="243.0" y2="2386.9" stroke="#231f20" stroke-width="3.0" stroke-linecap="butt"/>
<line x1="211.0" y1="2340.8" x2="243.0" y2="2340.8" stroke="#231f20" stroke-width="3.0" stroke-linecap="butt"/>
<line x1="211.0" y1="2294.7" x2="243.0" y2="2294.7" stroke="#231f20" stroke-width="3.0" stroke-linecap="butt"/>
<line x1="211.0" y1="2248.6" x2="243.0" y2="2248.6" stroke="#231f20" stroke-width="3.0" stroke-linecap="butt"/>
<line x1="211.0" y1="2202.5" x2="243.0" y2="2202.5" stroke="#231f20" stroke-width="3.0" stroke-linecap="butt"/>
<line x1="226.5" y1="2409.9" x2="243.0" y2="2409.9" stroke="#231f20" stroke-width="3.0" stroke-linecap="butt"/>
<line x1="226.5" y1="2363.8" x2="243.0" y2="2363.8" stroke="#231f20" stroke-width="3.0" stroke-linecap="butt"/>
<line x1="226.5" y1="2317.8" x2="243.0" y2="2317.8" stroke="#231f20" stroke-width="3.0" stroke-linecap="butt"/>
<line x1="226.5" y1="2271.7" x2="243.0" y2="2271.7" stroke="#231f20" stroke-width="3.0" stroke-linecap="butt"/>
<line x1="226.5" y1="2225.6" x2="243.0" y2="2225.6" stroke="#231f20" stroke-width="3.0" stroke-linecap="butt"/>
<text x="165.89" y="2210.10" font-size="26.2" font-weight="normal" fill="#231f20" textLength="40.06" lengthAdjust="spacingAndGlyphs">2.5</text>
<text x="183.20" y="2256.20" font-size="26.2" font-weight="normal" fill="#231f20" textLength="16.03" lengthAdjust="spacingAndGlyphs">2</text>
<text x="165.89" y="2302.30" font-size="26.2" font-weight="normal" fill="#231f20" textLength="40.06" lengthAdjust="spacingAndGlyphs">1.5</text>
<text x="182.60" y="2348.40" font-size="26.2" font-weight="normal" fill="#231f20" textLength="16.03" lengthAdjust="spacingAndGlyphs">1</text>
<text x="166.09" y="2394.50" font-size="26.2" font-weight="normal" fill="#231f20" textLength="40.06" lengthAdjust="spacingAndGlyphs">0.5</text>
<text x="182.81" y="2440.60" font-size="26.2" font-weight="normal" fill="#231f20" textLength="16.03" lengthAdjust="spacingAndGlyphs">0</text>
<line x1="1165.0" y1="2432.4" x2="1197.0" y2="2432.4" stroke="#231f20" stroke-width="3.0" stroke-linecap="butt"/>
<line x1="1165.0" y1="2374.5" x2="1197.0" y2="2374.5" stroke="#231f20" stroke-width="3.0" stroke-linecap="butt"/>
<line x1="1165.0" y1="2316.6" x2="1197.0" y2="2316.6" stroke="#231f20" stroke-width="3.0" stroke-linecap="butt"/>
<line x1="1165.0" y1="2258.8" x2="1197.0" y2="2258.8" stroke="#231f20" stroke-width="3.0" stroke-linecap="butt"/>
<line x1="1165.0" y1="2200.9" x2="1197.0" y2="2200.9" stroke="#231f20" stroke-width="3.0" stroke-linecap="butt"/>
<line x1="1165.0" y1="2403.5" x2="1181.5" y2="2403.5" stroke="#231f20" stroke-width="3.0" stroke-linecap="butt"/>
<line x1="1165.0" y1="2345.6" x2="1181.5" y2="2345.6" stroke="#231f20" stroke-width="3.0" stroke-linecap="butt"/>
<line x1="1165.0" y1="2287.7" x2="1181.5" y2="2287.7" stroke="#231f20" stroke-width="3.0" stroke-linecap="butt"/>
<line x1="1165.0" y1="2229.8" x2="1181.5" y2="2229.8" stroke="#231f20" stroke-width="3.0" stroke-linecap="butt"/>
<text x="1210.79" y="2208.58" font-size="22.8" font-weight="normal" fill="#231f20" textLength="25.36" lengthAdjust="spacingAndGlyphs">16</text>
<text x="1210.79" y="2266.46" font-size="22.8" font-weight="normal" fill="#231f20" textLength="25.36" lengthAdjust="spacingAndGlyphs">12</text>
<text x="1211.59" y="2324.34" font-size="22.8" font-weight="normal" fill="#231f20" textLength="12.68" lengthAdjust="spacingAndGlyphs">8</text>
<text x="1212.04" y="2382.22" font-size="22.8" font-weight="normal" fill="#231f20" textLength="12.68" lengthAdjust="spacingAndGlyphs">4</text>
<text x="1211.70" y="2440.10" font-size="22.8" font-weight="normal" fill="#231f20" textLength="12.68" lengthAdjust="spacingAndGlyphs">0</text>
<path d="M321.5,2244.6 C325.1,2242.4 337.8,2235.5 343.0,2231.7 C348.3,2227.9 350.1,2224.8 353.0,2221.6 C356.0,2218.5 358.6,2214.0 360.8,2213.0 C362.9,2212.1 363.7,2213.0 365.9,2215.9 C368.2,2218.8 371.7,2226.9 374.6,2230.3 C377.4,2233.6 379.3,2235.0 383.2,2236.0 C387.0,2236.9 392.7,2236.5 397.5,2236.0 C402.3,2235.5 408.0,2233.8 411.8,2233.1 C415.7,2232.4 417.8,2231.0 420.4,2231.7 C423.1,2232.4 425.2,2233.4 427.6,2237.4 C430.0,2241.5 432.1,2250.8 434.8,2256.1 C437.4,2261.3 439.8,2265.6 443.4,2269.0 C447.0,2272.3 449.6,2274.9 456.3,2276.1 C463.0,2277.3 475.1,2276.8 483.5,2276.1 C491.9,2275.4 499.8,2272.8 506.5,2271.8 C513.1,2270.9 517.4,2271.3 523.7,2270.4 C529.9,2269.5 537.5,2267.6 543.7,2266.7 C549.9,2265.7 555.7,2264.5 560.9,2264.7 C566.2,2264.8 570.5,2266.1 575.3,2267.5 C580.0,2269.0 585.8,2270.6 589.6,2273.3 C593.4,2275.9 595.3,2278.8 598.2,2283.3 C601.1,2287.8 603.9,2296.2 606.8,2300.5 C609.7,2304.8 613.2,2307.7 615.4,2309.1 C617.6,2310.5 616.8,2309.2 620.0,2309.2 C623.2,2309.2 629.7,2308.4 634.6,2309.2 C639.5,2310.0 643.6,2312.8 649.2,2314.1 C654.9,2315.3 662.7,2315.5 668.7,2316.5 C674.8,2317.5 678.5,2320.1 685.8,2320.1 C693.1,2320.1 703.3,2316.9 712.6,2316.5 C722.0,2316.1 732.9,2317.7 741.9,2317.7 C750.8,2317.7 761.2,2315.9 766.2,2316.5 C771.3,2317.1 769.7,2317.7 772.3,2321.4 C775.0,2325.0 779.0,2335.0 782.1,2338.4 C785.1,2341.9 785.1,2341.5 790.6,2342.1 C796.1,2342.7 809.3,2341.1 815.0,2342.1 C820.7,2343.1 822.3,2344.7 824.7,2348.2 C827.2,2351.6 827.8,2356.3 829.6,2362.8 C831.4,2369.3 833.7,2381.7 835.7,2387.2 C837.7,2392.7 837.1,2394.1 841.8,2395.7 C846.5,2397.3 856.0,2396.7 863.7,2396.9 C871.4,2397.1 880.0,2397.1 888.1,2396.9 C896.2,2396.7 906.4,2395.5 912.5,2395.7 C918.5,2395.9 919.9,2397.2 924.3,2398.1 C928.7,2399.0 934.1,2401.3 939.1,2401.0 C944.0,2400.8 947.7,2397.7 953.8,2396.6 C960.0,2395.5 968.6,2395.0 976.0,2394.4 C983.4,2393.8 989.5,2394.0 998.1,2392.9 C1006.8,2391.9 1019.7,2390.0 1027.7,2388.1 C1035.7,2386.3 1041.2,2382.5 1046.1,2381.8 C1051.1,2381.2 1053.5,2383.1 1057.2,2384.4 C1060.9,2385.8 1063.4,2388.7 1068.3,2390.0 C1073.2,2391.2 1077.5,2391.7 1086.7,2391.8 C1096.0,2391.9 1113.8,2390.7 1123.7,2390.7 C1133.5,2390.7 1138.9,2391.9 1145.8,2391.8 C1152.7,2391.7 1161.8,2390.3 1165.0,2390.0" fill="none" stroke="#806b64" stroke-width="9" stroke-linejoin="round" stroke-linecap="round" />
<circle cx="334.4" cy="2183.8" r="4.8" fill="#00a651"/>
<circle cx="334.4" cy="2203" r="4.8" fill="#00a651"/>
<circle cx="402.7" cy="2182.9" r="4.8" fill="#00a651"/>
<circle cx="480.6" cy="2177.2" r="4.8" fill="#00a651"/>
<circle cx="480.6" cy="2187.2" r="4.8" fill="#00a651"/>
<circle cx="535.1" cy="2214.5" r="4.8" fill="#00a651"/>
<circle cx="598.2" cy="2207.3" r="4.8" fill="#00a651"/>
<circle cx="598.2" cy="2218.8" r="4.8" fill="#00a651"/>
<circle cx="637.1" cy="2216.1" r="4.8" fill="#00a651"/>
<circle cx="707.7" cy="2223.1" r="4.8" fill="#00a651"/>
<circle cx="707.7" cy="2231.7" r="4.8" fill="#00a651"/>
<circle cx="736" cy="2217.8" r="4.8" fill="#00a651"/>
<circle cx="736" cy="2238.5" r="4.8" fill="#00a651"/>
<circle cx="824.7" cy="2255.6" r="4.8" fill="#00a651"/>
<circle cx="824.7" cy="2263.4" r="4.8" fill="#00a651"/>
<circle cx="871" cy="2255.6" r="4.8" fill="#00a651"/>
<circle cx="871" cy="2272.6" r="4.8" fill="#00a651"/>
<circle cx="969.7" cy="2251.5" r="4.8" fill="#00a651"/>
<circle cx="969.7" cy="2282.2" r="4.8" fill="#00a651"/>
<circle cx="1014" cy="2293.2" r="4.8" fill="#00a651"/>
<circle cx="1014" cy="2300.6" r="4.8" fill="#00a651"/>
<circle cx="1029.5" cy="2322.8" r="4.8" fill="#00a651"/>
<circle cx="1029.5" cy="2332" r="4.8" fill="#00a651"/>
<circle cx="1081.9" cy="2333.8" r="4.8" fill="#00a651"/>
<circle cx="1081.9" cy="2364.8" r="4.8" fill="#00a651"/>
<circle cx="1152" cy="2337.5" r="4.8" fill="#00a651"/>
<circle cx="1152" cy="2367" r="4.8" fill="#00a651"/>
<text x="256.85" y="2217.70" font-size="34" font-weight="bold" fill="#231f20" textLength="36.76" lengthAdjust="spacingAndGlyphs"><tspan>(i)</tspan></text>
<line x1="985.2" y1="2290.3" x2="985.2" y2="2188.0" stroke="#00a651" stroke-width="3" stroke-linecap="butt"/>
<polygon points="985.2,2170.3 994.4,2189.9 976.0,2189.9" fill="#00a651"/>
<text x="1002.20" y="2194.30" font-size="25" font-weight="normal" fill="#00a651" textLength="133.51" lengthAdjust="spacingAndGlyphs"><tspan>Increasing</tspan></text>
<text x="1004.10" y="2220.90" font-size="25" font-weight="normal" fill="#00a651" textLength="96.51" lengthAdjust="spacingAndGlyphs"><tspan>suboxia</tspan></text>
<text x="1002.96" y="2249.70" font-size="25" font-weight="normal" fill="#00a651" textLength="124.29" lengthAdjust="spacingAndGlyphs"><tspan>in eastern</tspan></text>
<text x="1002.49" y="2277.40" font-size="25" font-weight="normal" fill="#00a651" textLength="84.94" lengthAdjust="spacingAndGlyphs"><tspan>Pacific</tspan></text>
<polygon points="43.0,2224.0 76.8,2224.0 59.6,2431.0" fill="#b9a9a4"/>
<rect x="47.7" y="2238.2" width="25" height="6" fill="#fff"/>
<rect x="57.2" y="2228.7" width="6" height="25" fill="#fff"/>
<text transform="translate(29.20,2355.41) rotate(-90)" font-size="26" font-weight="bold" fill="#806b64" textLength="106.63" lengthAdjust="spacingAndGlyphs"><tspan>Nutrient</tspan></text>
<text transform="translate(113.30,2370.23) rotate(-90)" font-size="25" font-weight="normal" fill="#806860" textLength="156.39" lengthAdjust="spacingAndGlyphs"><tspan>Deep Pacific</tspan></text>
<text transform="translate(151.40,2369.87) rotate(-90)" font-size="25" font-weight="normal" fill="#806860" textLength="139.67" lengthAdjust="spacingAndGlyphs"><tspan>[PO</tspan><tspan dy="5.00" font-size="15.00">4</tspan><tspan dy="-14.00" font-size="15.00">3-</tspan><tspan dy="9.00">] (μm)</tspan></text>
<text transform="translate(1287.90,2234.46) rotate(90)" font-size="25" font-weight="normal" fill="#00a651" textLength="168.32" lengthAdjust="spacingAndGlyphs"><tspan>Foram-bound</tspan></text>
<text transform="translate(1251.00,2226.43) rotate(90)" font-size="25" font-weight="normal" fill="#00a651" textLength="183.48" lengthAdjust="spacingAndGlyphs"><tspan>δ</tspan><tspan dy="-9.00" font-size="15.00">15</tspan><tspan dy="9.00">N (‰ vs. air)</tspan></text>
</svg></body></html>
